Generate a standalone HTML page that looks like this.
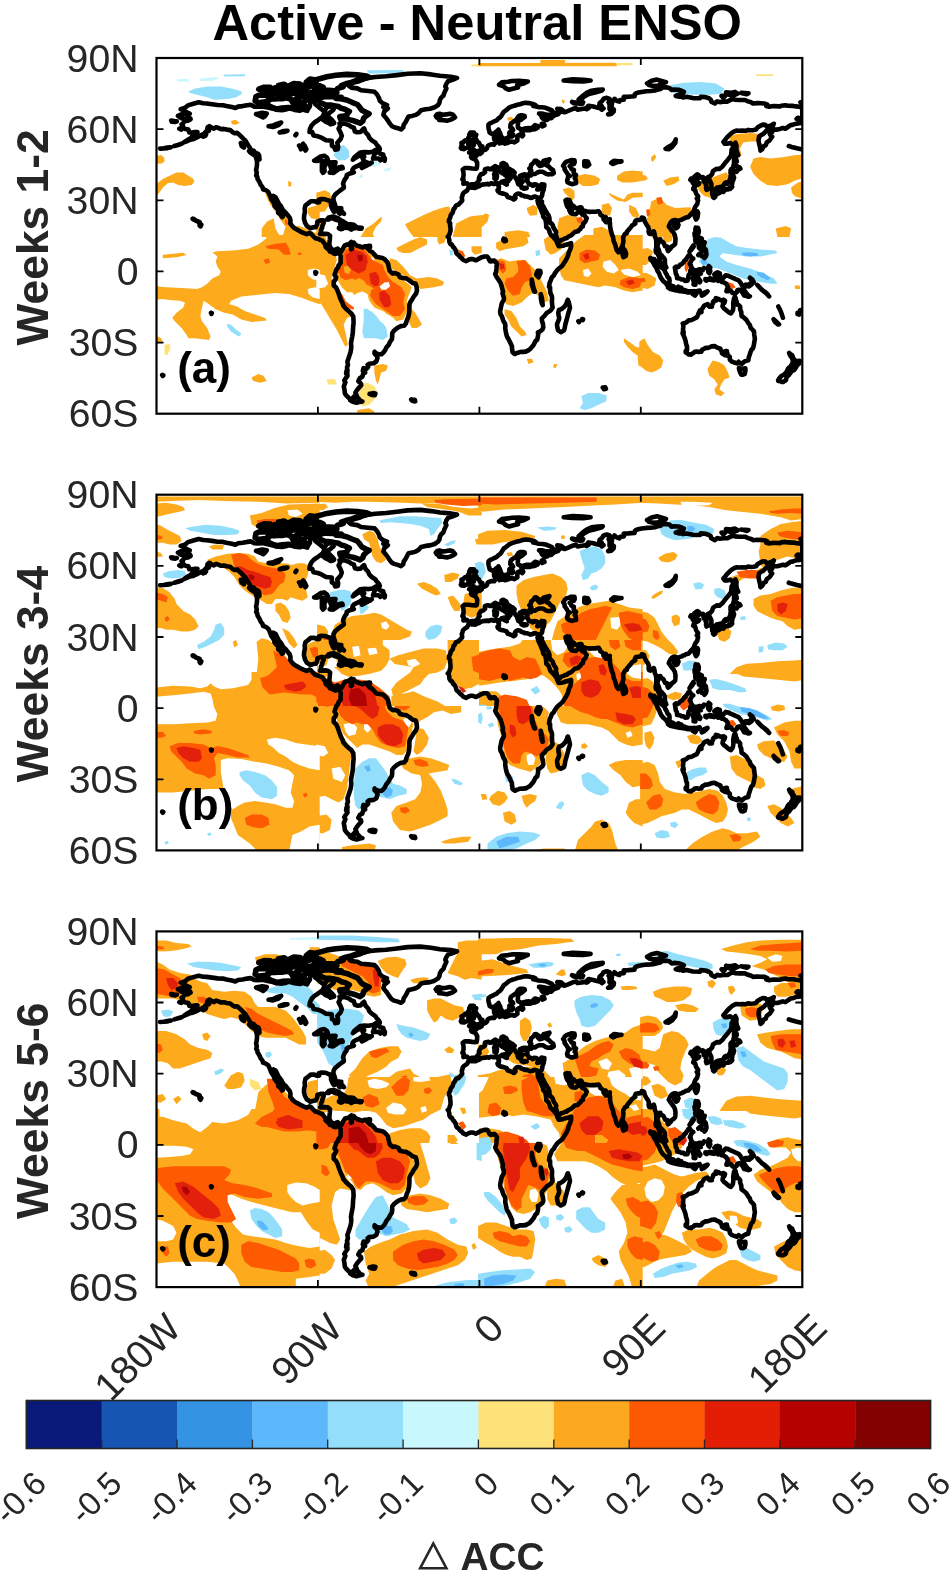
<!DOCTYPE html>
<html><head><meta charset="utf-8"><style>
html,body{margin:0;padding:0;background:#fff;width:950px;height:1573px;overflow:hidden}
svg{display:block;filter:blur(0.35px)}
text{font-family:"Liberation Sans",sans-serif}
</style></head><body>
<svg width="950" height="1573" viewBox="0 0 950 1573">
<defs><g id="coast"><path d="M174.4 88.0L178.0 87.0L181.6 85.8L178.9 86.6L174.4 88.0M160.1 90.6L163.7 90.3L167.3 89.6L170.9 89.2L167.3 90.1L160.1 90.6M788.8 88.0L791.5 88.9L796.9 90.3L801.4 91.3M178.0 57.9L181.3 56.4L185.2 55.5L188.8 56.7L189.7 55.7L186.1 54.1L182.5 51.7L180.7 51.2L185.2 49.8L187.9 47.4L194.2 45.5L198.7 44.3L203.1 45.3L206.7 45.5L212.1 46.2L217.5 47.0L222.9 47.2L226.5 48.1L231.8 49.1L235.4 50.0L238.1 48.6L242.6 48.1L247.1 47.2L250.7 46.7L254.3 48.6L257.9 48.8L262.3 48.4L267.7 49.6L273.1 50.7L275.8 51.7L282.1 52.2L285.7 51.5L289.2 50.3L294.6 51.9L300.0 52.6L302.7 51.5L307.2 52.9L308.1 50.5L309.9 48.4L310.2 43.2L313.5 42.7L315.3 46.2L318.8 49.1L321.5 51.2L324.2 53.4L326.9 49.3L330.5 48.1L332.3 49.3L333.6 51.5L331.4 53.4L328.7 55.5L326.9 56.2L323.9 56.0L322.8 58.6L319.7 60.9L317.1 62.8L314.4 64.5L311.7 67.3L309.9 71.1L309.5 74.0L312.2 74.0L313.5 77.5L317.9 78.3L321.5 79.7L326.0 82.3L331.8 82.8L331.9 87.7L334.1 88.9L335.2 91.8L337.7 91.3L338.2 88.7L337.3 84.7L340.7 80.9L341.8 77.8L340.4 74.2L338.6 70.7L340.2 67.8L339.5 65.4L344.9 65.7L349.3 67.3L351.1 68.8L353.8 69.7L354.9 73.5L357.1 74.2L360.5 74.0L362.8 71.4L364.1 70.4L365.5 74.2L368.2 77.1L369.4 79.9L371.8 82.3L375.4 84.7L376.3 86.3L379.3 89.6L379.3 91.3L376.3 91.5L372.7 93.7L368.5 94.4L364.6 94.1L360.1 94.6L357.4 96.8L354.2 99.6L352.9 101.7L356.5 99.1L360.1 97.2L363.7 97.5L364.2 98.9L362.4 99.8L363.5 102.2L364.9 103.6L368.2 104.8L370.0 106.0L369.6 105.3L371.8 104.6L366.4 107.7L361.9 110.0L361.0 108.1L364.1 106.0L361.9 105.3L359.2 107.2L356.5 108.4L353.8 109.8L352.6 111.5L352.2 113.1L353.8 114.3L351.7 115.0L349.3 115.7L346.7 117.1L346.5 119.3L344.9 121.2L343.8 123.5L343.1 125.7L343.8 128.5L343.8 129.9L342.0 131.1L339.5 133.0L337.3 134.7L335.0 136.8L333.6 139.2L333.4 141.8L334.1 143.9L335.0 146.5L335.7 149.9L335.4 153.2L333.9 153.7L332.8 152.0L331.9 150.1L331.0 147.7L331.0 145.1L329.6 142.8L327.8 142.3L325.1 141.3L321.5 141.1L318.8 141.8L319.2 144.2L317.1 144.4L314.4 143.2L310.8 143.2L308.1 145.4L305.4 147.5L304.7 150.6L304.9 154.1L304.1 157.7L304.0 161.0L305.0 164.6L306.8 167.9L309.0 169.3L310.2 170.3L313.5 169.3L315.8 169.1L317.1 166.5L317.4 163.6L320.6 162.4L323.3 162.4L323.7 164.8L322.4 167.9L322.1 170.0L321.0 171.9L321.0 175.0L320.1 176.0L322.4 176.0L325.1 175.7L327.8 176.0L330.1 177.8L329.8 181.4L329.4 185.0L329.4 187.3L330.5 189.7L333.2 192.6L335.9 191.4L337.7 190.7L339.8 192.8L341.3 193.5L342.3 191.8L343.8 189.0L344.9 187.3L346.7 186.6L348.1 186.6L349.9 185.2L351.3 184.0L350.6 186.9L351.1 188.5L351.0 191.4L352.0 190.7L351.7 187.6L353.5 185.9L353.8 184.5L354.7 186.1L356.9 187.6L359.2 188.3L362.8 189.5L364.6 188.3L367.3 188.3L368.5 188.5L366.9 189.7L370.0 193.0L372.1 194.0L374.3 196.3L376.3 198.7L379.8 199.4L382.5 199.9L384.3 200.9L386.7 203.5L387.9 205.1L388.8 209.2L389.7 212.9L391.5 214.6L392.8 215.6L395.1 215.1L398.7 216.7L399.9 219.3L403.2 220.1L405.9 220.3L409.4 222.4L412.7 225.0L415.7 225.8L416.6 228.8L417.0 232.4L416.1 235.5L413.9 238.3L412.5 240.7L410.3 244.2L409.4 246.6L409.4 251.4L409.1 255.4L408.2 259.2L406.6 263.0L405.9 265.6L404.1 267.7L401.4 268.0L399.2 268.9L396.9 270.3L394.2 272.5L392.2 275.1L392.2 278.6L391.9 281.2L390.1 283.8L388.6 286.9L386.5 289.3L385.0 292.4L383.4 294.5L381.5 296.2L378.4 296.2L375.7 295.0L374.6 293.8L374.5 295.5L376.8 297.8L377.5 300.0L376.3 303.5L373.6 305.2L369.1 305.7L367.6 306.9L368.2 309.0L366.4 310.9L363.5 310.2L362.8 313.0L365.1 314.7L363.2 315.6L362.3 318.9L359.9 320.1L358.3 323.2L361.0 325.6L361.2 327.2L358.1 330.6L356.7 332.5L355.4 334.6L356.7 337.4L354.7 337.9L352.4 340.3L351.7 341.5L349.3 340.3L346.7 337.9L344.9 335.5L344.5 332.0L343.8 328.4L345.4 324.4L344.3 322.5L345.8 320.1L347.5 317.8L347.0 316.1L347.5 312.5L347.0 309.5L347.9 307.1L347.4 303.5L348.1 301.6L349.2 298.3L350.6 294.0L351.0 291.7L351.3 288.8L351.0 285.3L351.5 282.2L352.2 278.6L352.8 275.1L353.1 269.1L353.6 264.4L353.3 258.5L351.3 255.4L348.8 253.3L346.1 250.9L343.4 247.8L342.5 245.0L340.9 241.9L339.3 237.6L337.7 232.9L336.1 229.5L333.7 227.4L333.7 223.6L335.4 221.7L336.2 219.3L334.5 217.0L335.7 213.4L336.6 211.0L338.0 209.6L338.6 207.5L340.6 204.9L340.6 202.0L340.7 198.0L339.7 196.1L338.6 194.0L337.1 192.1L336.2 193.3L335.2 194.4L335.7 195.9L333.7 195.4L332.3 194.2L329.8 193.5L329.3 192.1L326.9 190.2L325.5 188.8L325.7 187.1L324.0 185.0L322.3 182.6L320.6 182.1L317.9 180.7L315.3 180.2L313.3 178.3L311.0 175.7L309.5 175.0L306.6 176.2L304.0 175.2L300.9 173.8L297.3 171.7L294.6 170.3L292.3 168.1L290.3 165.5L290.5 162.4L289.8 159.8L287.8 157.2L285.7 154.6L283.1 152.2L281.0 148.2L278.7 145.4L277.0 142.0L275.6 139.2L273.5 138.0L273.5 140.4L274.4 142.8L276.2 145.1L277.4 148.0L279.2 150.8L280.3 154.1L281.7 156.0L283.0 158.4L282.1 159.1L280.5 156.5L278.1 154.6L278.3 151.5L276.2 149.9L274.4 147.7L274.5 146.3L272.7 143.2L271.1 140.9L270.2 138.0L269.2 135.9L268.4 134.2L266.8 132.8L264.9 131.8L263.1 131.4L262.5 129.2L260.7 126.9L259.8 124.7L258.9 123.1L257.5 120.9L257.3 118.8L256.2 117.6L256.8 115.0L256.1 111.9L256.6 109.8L257.0 106.7L257.0 103.6L256.6 101.7L255.7 98.6L258.6 99.4L259.5 101.3L259.1 97.5L258.2 96.0L255.5 94.9L253.7 92.7L251.2 92.2L250.0 90.1L248.3 87.5L246.6 84.7L245.3 82.5L243.5 80.9L241.7 79.0L239.4 76.8L237.2 74.9L234.5 75.2L232.7 74.2L230.2 72.1L226.8 71.6L223.8 70.9L221.1 71.1L218.4 70.0L216.1 69.2L213.9 70.7L211.2 69.2L209.4 68.1L207.6 69.2L207.1 71.6L208.9 72.8L205.8 73.7L203.9 75.9L201.3 77.1L198.7 78.5L195.4 80.2L192.7 81.3L190.0 81.8L187.4 83.0L183.8 84.4L187.7 81.8L190.6 80.2L193.3 77.5L196.0 74.9L197.4 74.0L194.9 74.0L192.4 74.5L189.3 74.5L188.4 71.6L185.6 71.1L183.0 69.7L182.9 67.6L181.6 66.4L183.8 64.5L184.1 63.3L187.9 62.8L190.6 61.2L190.2 60.2L187.0 60.2L183.8 60.5L181.3 60.2L179.3 58.8L178.0 57.9M584.3 103.2L587.9 103.6L589.2 106.7L587.0 108.4L584.3 107.9L584.3 103.2M279.7 74.5L283.9 73.0L287.5 72.8L283.9 74.0L279.7 74.5M682.8 265.6L684.1 265.1L685.0 265.1L686.6 264.2L688.7 262.3L690.5 262.3L692.5 261.6L694.7 260.4L696.8 259.4L697.9 257.3L698.8 254.7L700.0 252.3L701.5 254.0L701.1 251.8L702.6 250.2L704.0 247.8L705.6 246.9L707.6 246.1L709.4 248.8L711.9 248.8L711.5 247.6L713.1 245.0L713.0 244.0L714.0 242.8L716.2 242.4L717.3 240.7L715.8 240.2L718.5 240.9L720.1 241.9L722.1 242.4L723.4 241.6L725.0 242.6L724.3 245.0L723.2 245.0L722.5 248.5L723.9 250.4L725.3 251.4L727.5 253.3L729.3 254.7L730.9 255.4L732.2 253.7L732.9 252.3L733.4 249.0L733.2 245.7L733.4 244.0L734.1 240.2L735.0 238.8L735.6 240.0L736.1 242.6L736.8 243.8L737.0 246.6L738.8 247.1L740.2 248.8L740.1 251.1L741.3 254.2L741.5 258.0L744.0 259.7L746.3 261.8L747.6 263.9L748.8 265.8L749.9 267.0L750.5 269.6L752.3 271.5L754.0 273.4L754.2 276.5L754.9 281.0L754.4 283.4L753.9 286.9L753.0 290.3L751.5 291.7L750.6 293.8L749.7 296.7L748.7 299.5L748.3 302.3L745.4 303.1L743.8 304.0L741.8 305.9L740.4 305.0L739.3 304.5L738.6 303.8L737.0 305.4L734.5 304.5L733.4 304.2L731.6 303.5L729.8 301.6L729.8 299.0L728.9 298.1L727.1 297.8L727.7 296.7L727.3 295.0L726.4 296.7L724.8 297.1L726.1 294.3L726.8 293.1L725.5 293.1L724.1 294.3L723.2 296.2L721.9 295.2L721.9 293.8L720.9 292.1L720.0 291.2L720.3 290.7L716.7 289.3L714.9 288.1L711.7 288.4L709.4 289.3L707.4 290.0L705.6 289.8L703.8 291.0L702.2 291.7L701.3 293.8L699.7 293.8L698.6 294.0L697.0 293.6L694.7 293.8L694.5 294.0L693.4 295.2L692.0 295.7L691.1 296.7L689.8 296.4L688.6 296.4L686.8 295.0L685.7 294.5L685.7 293.1L687.0 292.4L687.0 291.4L687.0 288.4L686.1 286.0L685.7 283.4L685.0 281.0L684.3 279.1L683.9 278.2L683.0 276.3L682.6 275.3L683.5 276.3L682.8 274.1L683.7 274.8L683.0 271.3L683.2 269.4L683.4 266.8L682.8 265.6M338.9 150.1L341.3 150.3L340.4 151.3L338.9 150.1M339.5 153.7L340.0 155.8L339.1 155.3L339.5 153.7M342.2 153.7L343.1 155.3L344.0 155.8L342.2 153.7M665.6 90.8L668.7 88.7L671.9 87.0L674.6 84.2L675.8 81.3L675.3 84.9L672.2 88.9L668.7 91.3L665.6 90.8M686.1 232.6L687.8 233.3L689.3 233.3L692.9 233.3L691.6 234.3L687.8 234.5L686.1 234.1L686.1 232.6M611.3 104.8L613.9 102.7L618.4 103.2L621.5 103.4L616.6 104.3L613.0 106.0L611.3 104.8M674.9 209.6L675.3 212.2L675.8 215.6L676.9 217.5L677.1 220.3L679.8 220.5L681.2 221.5L683.5 221.5L685.0 222.9L687.5 222.7L688.0 220.8L688.6 217.0L690.2 215.3L690.4 212.2L691.1 211.3L692.7 211.0L691.1 208.9L690.9 207.3L689.8 205.8L691.1 203.2L691.8 201.6L693.2 200.6L691.6 199.7L690.5 198.2L689.6 196.8L688.6 197.3L687.5 199.2L686.4 200.6L685.7 202.0L684.3 202.7L683.7 203.9L682.1 205.8L680.0 206.8L678.5 208.9L677.1 209.4L676.0 208.7L674.9 209.6M469.2 94.6L471.3 94.1L473.3 93.4L475.8 93.2L478.0 93.0L480.3 93.0L481.9 92.0L480.7 91.3L482.3 89.9L482.4 88.5L480.3 87.7L479.8 86.6L478.7 84.4L477.2 83.9L476.5 81.8L475.8 80.9L474.0 80.6L474.7 79.9L475.8 78.0L476.2 76.8L473.7 76.6L472.2 76.8L473.8 74.5L470.4 74.5L469.2 76.8L469.4 79.4L468.3 79.9L469.7 81.3L470.6 83.0L470.4 83.7L472.9 83.2L473.7 84.9L474.0 85.8L473.8 87.0L471.3 86.8L471.0 88.2L472.0 89.4L470.3 90.3L470.4 91.1L471.9 91.1L473.8 91.5L472.4 92.0L470.8 93.2L469.2 94.6M705.4 221.0L707.6 221.2L706.5 222.7L705.4 222.0L705.4 221.0M563.2 107.7L564.8 105.1L566.6 103.6L567.5 103.4L569.1 102.9L571.2 102.0L574.5 102.2L574.7 104.3L573.9 106.0L571.4 106.2L571.4 107.9L569.6 108.1L570.7 109.1L571.6 111.2L573.9 111.9L573.6 114.3L574.5 115.7L574.1 116.9L576.1 117.1L574.7 120.2L575.6 120.9L576.1 125.2L574.8 125.4L572.0 126.2L569.8 125.4L567.5 124.3L567.1 122.4L567.7 120.7L568.2 118.3L569.8 117.9L568.4 117.1L567.3 115.5L566.6 114.3L564.6 111.5L564.6 110.0L564.1 108.8L563.2 107.7M503.6 180.7L505.4 181.2L505.9 182.8L504.5 183.3L503.3 182.1L503.6 180.7M162.2 317.0L163.3 317.3L162.8 318.0L162.2 317.0M347.4 312.5L346.8 314.4L347.4 316.1L346.1 315.6L346.5 312.8L347.4 312.5M330.5 66.2L332.7 65.7L332.3 64.3L329.6 65.2L330.5 66.2M494.8 112.4L496.3 111.5L496.6 113.6L495.9 115.2L494.8 113.8L494.8 112.4M521.6 129.7L522.8 129.5L525.7 129.7L526.6 130.2L523.7 130.7L521.6 129.7M327.1 161.5L328.7 159.6L331.4 158.9L334.1 158.6L336.8 159.8L338.6 160.5L340.7 162.2L343.1 163.4L344.9 164.6L346.3 165.5L344.0 166.2L340.2 166.2L340.9 164.6L338.6 162.4L335.0 161.5L332.7 160.5L330.7 159.8L328.7 161.5L327.1 161.5M537.3 131.4L538.6 131.4L540.4 130.4L541.5 128.8L540.2 129.9L538.2 130.2L537.3 131.4M329.8 114.5L333.2 115.0L337.7 111.9L335.0 112.4L330.5 113.8L329.8 114.5M469.4 128.1L468.1 126.2L467.0 125.2L465.9 125.2L463.4 125.7L463.6 123.5L463.6 121.9L462.4 121.4L463.3 119.3L463.6 116.9L463.4 114.1L462.7 111.5L464.7 110.0L468.6 110.0L472.2 110.5L475.8 110.7L476.7 110.5L477.1 107.9L477.2 104.8L475.8 102.2L474.9 101.3L471.7 100.1L471.0 98.9L471.5 97.9L474.0 97.7L476.5 97.9L476.0 95.6L477.2 96.3L479.8 96.0L481.6 94.9L482.3 92.7L483.9 92.2L485.7 91.5L486.9 90.3L487.8 88.0L489.3 87.0L492.0 86.3L494.1 86.6L495.0 85.4L495.2 83.0L494.1 81.1L494.1 78.7L496.6 77.8L498.4 76.6L498.2 77.8L497.9 79.9L499.0 79.9L497.7 81.6L497.0 83.0L497.2 83.5L499.0 84.4L499.5 85.4L501.5 84.7L503.8 84.9L505.1 85.6L508.1 84.7L510.8 83.5L512.8 83.7L514.4 84.4L517.4 82.5L517.3 79.9L518.1 77.3L519.9 76.6L522.3 78.3L523.2 77.3L522.6 75.2L521.6 73.7L523.0 72.6L526.0 72.1L529.6 72.3L532.3 71.4L533.6 71.4L531.4 70.4L529.3 70.0L526.0 70.2L521.6 71.4L520.3 70.9L518.0 69.7L517.8 67.8L518.0 65.2L517.3 64.0L519.4 62.6L521.6 61.4L523.4 59.8L524.8 58.8L524.6 57.9L522.6 57.4L520.1 57.4L518.5 58.3L517.4 59.8L516.7 61.4L514.9 62.6L512.6 64.3L511.0 65.4L510.4 67.3L510.3 69.5L512.2 70.4L513.1 71.9L512.0 72.8L509.5 74.2L509.2 76.6L508.8 79.2L507.7 80.4L505.8 80.2L504.9 82.0L502.4 82.0L502.5 80.6L502.0 79.4L500.7 77.3L500.2 75.2L499.3 73.5L498.4 71.6L497.9 73.0L496.4 73.5L494.6 75.2L492.0 75.9L489.6 74.5L489.3 72.8L488.7 70.9L488.4 68.8L488.5 66.6L490.0 65.4L492.0 64.5L494.3 63.3L496.6 62.4L498.1 60.7L499.9 59.5L501.3 57.9L502.4 56.0L503.8 53.8L505.9 52.4L507.9 50.7L509.2 49.6L512.0 48.4L514.4 47.7L517.4 46.7L519.9 46.2L522.8 45.3L525.5 44.8L528.9 45.1L530.7 45.5L533.8 46.2L535.4 47.0L533.2 47.9L535.9 48.4L538.6 49.1L542.2 49.3L545.6 49.8L548.5 51.0L551.9 52.4L553.1 54.1L551.7 56.2L548.5 56.9L544.9 56.2L541.8 55.5L539.0 55.5L541.1 57.1L541.8 59.3L543.1 60.9L545.4 61.2L546.7 61.9L547.9 61.2L546.1 59.5L549.0 60.2L551.5 60.2L552.2 59.0L554.7 57.4L558.0 56.4L558.7 55.5L557.4 53.8L558.7 51.5L557.3 50.7L561.0 51.0L562.8 52.4L561.0 53.4L564.6 54.3L568.2 52.9L572.7 51.0L575.9 50.0L577.5 51.7L581.7 51.0L585.2 50.5L586.7 51.2L588.6 50.0L587.6 48.6L588.5 47.7L593.3 48.6L596.0 49.3L600.3 50.3L601.9 51.7L603.5 50.5L602.3 49.6L601.7 47.9L599.2 47.9L599.6 45.1L602.1 43.2L603.5 40.8L606.8 39.8L609.6 40.8L610.0 42.2L608.6 44.3L609.5 45.5L609.6 48.6L609.5 51.0L611.4 52.6L610.7 54.5L608.2 56.4L611.3 56.0L613.6 53.6L613.9 51.5L611.8 50.0L611.6 47.9L612.0 45.3L610.7 44.1L613.6 42.4L614.5 40.8L616.6 42.7L619.3 43.6L620.2 42.0L623.8 41.7L624.7 39.6L623.8 38.9L628.3 38.7L634.6 38.2L634.8 36.5L636.0 35.3L638.2 34.6L641.7 33.9L646.2 33.2L650.7 33.0L654.8 32.5L657.0 31.8L660.6 31.1L661.7 29.6L666.5 29.2L669.6 30.1L671.7 32.0L674.0 31.5L678.5 31.8L682.1 33.0L683.9 33.9L683.0 35.3L680.3 36.3L677.6 37.0L675.8 37.9L679.4 38.7L682.1 38.2L683.0 39.4L686.6 38.7L692.9 40.1L700.0 40.3L700.8 38.7L705.4 39.1L709.0 40.3L710.8 41.7L711.3 43.6L714.9 45.5L717.1 43.4L719.8 44.1L723.4 43.6L727.5 43.6L730.2 42.0L733.2 41.0L735.0 41.7L739.5 42.0L744.9 42.0L748.1 43.4L751.2 44.3L753.0 45.5L757.5 45.1L761.0 45.3L764.6 45.5L767.3 46.7L766.4 48.1L769.1 48.8L773.6 48.1L779.9 48.4L781.3 47.7L785.3 47.2L787.9 47.7L793.3 47.9L796.0 48.4L799.6 48.8L802.3 50.0L802.3 59.0L800.0 60.5L797.8 59.8L796.6 60.9L799.3 61.9L800.9 63.8L801.2 65.0L797.8 65.4L795.1 65.9L792.4 66.9L790.6 67.1L787.9 69.0L785.3 70.7L782.9 70.0L779.9 70.9L777.2 71.6L774.7 71.4L772.7 72.3L772.2 74.0L769.7 75.6L770.4 77.1L772.2 78.7L771.1 80.2L769.7 82.3L766.8 84.4L765.7 87.3L763.7 88.2L762.3 91.1L760.5 92.5L760.1 89.4L759.2 86.1L758.5 82.3L759.1 78.7L760.7 77.3L763.4 75.9L766.1 73.0L769.8 70.4L772.7 68.3L773.8 65.7L771.6 67.1L767.0 68.8L765.3 66.9L762.8 66.6L760.7 67.6L757.5 69.5L756.0 71.6L753.5 72.1L750.6 72.3L748.1 71.9L745.8 72.8L742.2 72.6L739.5 72.8L736.3 72.6L734.5 73.3L732.0 74.7L729.3 77.1L727.0 79.4L725.2 81.8L723.4 83.9L724.8 85.8L727.3 85.8L730.2 84.9L732.9 87.0L733.1 89.4L731.6 91.8L731.4 94.6L731.1 97.5L729.3 99.8L727.3 102.4L724.8 105.3L722.5 108.4L719.4 111.0L716.7 110.7L714.0 112.4L713.0 113.1L712.1 116.2L711.2 117.1L709.9 118.6L708.1 119.0L708.1 120.5L709.6 121.9L711.3 125.4L711.5 128.3L711.0 130.2L709.0 130.7L706.5 131.8L706.0 129.9L706.5 127.1L705.6 126.4L706.9 124.0L705.6 124.0L704.0 124.0L703.5 122.1L704.2 120.0L702.9 119.0L700.4 119.3L697.5 120.9L696.8 121.2L697.7 119.5L697.4 118.6L698.8 117.4L697.5 116.4L696.1 117.1L694.3 118.8L692.9 120.5L691.1 120.5L690.4 121.9L692.7 123.5L692.7 125.0L694.1 125.2L696.1 123.8L697.5 124.5L699.2 125.2L698.6 126.2L695.7 127.8L693.9 129.0L693.2 131.1L695.2 132.1L695.9 134.9L696.6 136.4L698.1 138.2L697.9 140.1L696.8 140.6L698.1 142.3L697.5 144.7L697.2 146.3L695.7 148.0L694.7 150.1L693.9 152.5L692.9 154.1L691.8 155.1L689.8 157.5L688.2 159.1L686.1 159.4L684.3 160.5L683.0 160.8L681.9 161.7L680.0 162.2L677.8 163.1L677.4 165.0L676.5 163.9L676.0 162.0L674.0 162.0L672.1 162.9L670.6 164.6L669.6 166.5L668.8 168.4L670.4 170.7L672.1 173.1L673.7 175.0L674.8 177.1L675.5 180.7L675.3 184.3L675.1 185.9L673.9 187.3L671.9 188.5L670.4 190.7L668.1 193.0L667.4 191.4L667.6 188.8L666.5 188.5L665.1 188.3L664.2 186.1L663.3 184.5L661.8 183.5L660.4 183.3L660.4 181.4L658.8 181.6L658.6 184.3L657.4 187.3L657.7 189.7L658.6 191.6L659.3 193.7L659.9 196.3L661.5 197.3L662.7 198.7L664.3 200.6L664.9 202.0L664.9 204.4L665.1 206.8L666.3 209.6L665.1 210.3L663.5 208.9L661.3 207.0L660.6 204.9L659.9 203.5L659.5 201.1L659.3 198.7L658.3 197.3L657.7 195.4L655.9 194.4L655.7 192.1L656.3 189.2L656.3 186.4L656.3 183.8L655.9 180.7L654.8 178.3L654.5 175.5L653.8 173.3L652.3 174.1L650.5 176.0L649.1 175.5L648.6 173.6L648.9 171.2L648.2 169.1L647.1 167.4L646.2 166.2L645.2 164.3L644.6 163.1L644.1 160.5L643.0 159.8L641.7 159.6L641.2 161.5L639.2 162.0L637.6 162.0L635.8 162.4L634.8 164.3L635.3 165.5L633.7 166.5L631.9 167.7L630.3 170.0L628.7 171.7L627.0 173.8L626.9 175.2L625.2 175.7L624.3 177.1L623.1 179.3L623.4 182.6L623.3 184.5L622.6 187.1L622.7 189.2L621.7 189.0L620.9 190.9L619.9 192.3L618.4 194.2L616.8 192.3L615.9 189.5L615.2 186.6L614.5 185.0L613.6 182.8L613.0 179.0L612.0 176.7L611.3 174.5L610.5 171.0L610.0 167.9L610.0 165.3L609.6 162.7L609.8 161.0L608.7 162.9L607.1 164.1L605.9 164.1L603.5 161.0L604.3 160.1L605.7 159.1L603.5 159.4L602.1 157.7L600.5 156.7L599.8 154.8L598.7 153.2L595.1 153.7L591.5 153.7L589.7 153.9L586.3 153.2L584.3 152.7L582.4 152.5L581.5 149.6L580.8 149.2L579.1 149.6L577.5 150.6L575.4 149.9L573.6 148.0L571.8 147.3L570.7 145.1L569.3 142.0L568.4 142.3L567.1 141.6L565.5 142.3L566.2 145.6L566.9 147.7L567.8 149.2L569.5 150.1L569.3 152.0L570.2 154.1L570.9 155.1L571.6 153.2L572.0 152.2L571.4 151.5L572.0 155.8L573.8 156.0L575.7 156.3L577.5 154.6L578.8 153.2L579.9 151.8L580.6 150.8L580.4 152.5L580.6 154.4L582.4 156.7L584.7 157.5L586.0 159.6L586.7 160.1L585.8 162.7L584.3 164.8L583.1 165.5L582.9 168.4L581.3 169.1L580.4 171.0L578.6 172.4L578.1 173.3L574.7 174.1L573.0 175.7L571.2 177.4L568.4 178.6L566.8 180.2L565.3 180.2L563.7 181.2L561.2 181.9L560.1 183.3L559.2 183.3L557.4 183.5L556.9 182.1L557.1 180.7L556.4 178.3L555.8 176.2L556.2 174.5L555.8 173.1L554.4 171.2L553.3 169.1L552.8 167.2L551.5 165.5L550.8 165.3L549.5 162.9L549.4 159.8L548.5 157.2L547.4 155.8L546.7 154.4L546.1 153.7L545.1 151.8L544.3 150.3L543.3 148.4L542.4 146.8L541.5 146.8L542.0 143.5L541.5 144.2L541.1 146.3L540.8 147.5L540.2 148.0L538.8 146.1L537.9 142.5L537.5 142.5L538.1 145.4L539.1 147.7L540.4 150.3L541.3 152.7L542.2 154.8L543.1 156.7L543.1 158.6L545.2 160.8L545.6 162.4L546.1 165.3L546.3 169.1L548.3 170.7L549.2 172.6L549.9 175.0L550.8 176.7L553.3 179.0L555.3 181.6L556.7 183.3L557.1 185.0L558.7 188.3L561.2 188.0L563.0 187.8L564.6 187.1L566.2 186.6L567.8 186.4L569.6 185.7L571.1 185.2L571.1 188.3L570.2 191.6L568.7 194.7L568.2 197.3L566.6 200.9L565.5 202.7L563.7 205.6L561.9 208.2L561.2 208.7L558.5 210.8L556.7 212.7L554.7 215.6L553.8 217.5L552.8 218.4L551.7 219.6L550.8 222.2L549.7 224.6L549.0 228.8L550.1 229.5L550.1 232.4L550.4 235.0L551.7 237.8L552.1 240.0L551.9 243.3L552.2 247.1L552.6 249.5L550.8 252.3L546.5 255.2L544.5 257.8L541.8 260.4L542.0 263.0L542.9 265.8L543.3 269.6L542.4 271.5L539.7 273.7L537.9 274.4L538.2 276.3L537.9 278.6L537.2 281.7L535.5 283.1L533.4 287.2L531.2 289.8L530.0 291.2L528.7 292.1L526.8 293.1L525.7 293.8L524.6 293.6L523.7 294.0L521.7 293.8L519.9 294.0L518.0 294.8L516.5 295.0L515.5 295.9L514.6 295.9L513.8 295.2L513.3 295.0L512.4 294.0L512.4 292.4L512.0 290.7L512.0 288.6L511.0 286.2L510.1 284.3L508.6 281.2L507.4 279.3L506.7 277.7L505.8 273.7L505.2 270.1L505.4 267.7L505.1 265.8L503.4 263.0L502.4 260.1L502.0 258.5L500.6 256.3L500.2 254.2L500.2 253.0L501.3 247.6L501.8 245.4L503.8 241.9L504.0 240.2L503.4 238.1L502.5 235.2L503.1 233.8L501.5 227.9L501.3 227.2L500.7 225.3L499.3 222.9L497.5 220.3L496.3 218.4L495.2 216.0L496.1 213.9L496.4 211.0L496.6 208.0L497.0 206.1L496.3 204.6L495.4 204.2L495.0 203.0L494.3 202.5L492.9 203.0L492.1 202.7L491.4 203.5L490.0 203.2L489.1 201.8L488.2 199.7L487.1 198.5L485.9 198.5L484.2 198.5L482.8 199.0L481.4 199.4L478.5 200.9L477.4 201.6L475.8 202.3L474.2 201.6L473.5 201.3L472.2 201.1L471.1 201.1L469.0 201.6L467.7 202.3L465.9 203.2L465.6 203.0L463.3 202.0L461.6 200.1L460.0 199.0L458.9 197.3L457.2 196.1L456.3 194.9L455.7 192.3L454.8 190.9L454.1 189.7L453.2 189.2L452.3 187.3L451.4 186.1L450.5 186.1L449.4 184.0L449.3 182.1L448.7 179.3L447.8 178.6L448.5 178.1L449.4 176.4L449.8 175.2L450.5 173.1L450.5 170.5L450.2 168.1L450.0 166.9L450.2 165.8L449.8 164.6L448.9 163.6L449.1 161.5L449.6 160.8L450.2 159.6L450.7 157.2L451.8 155.6L452.3 155.3L452.9 153.9L453.6 151.1L454.6 150.3L455.9 147.7L456.8 147.0L458.4 146.8L459.8 145.1L460.7 144.4L462.2 142.5L461.8 139.4L462.5 137.5L462.7 136.1L463.8 134.7L465.6 133.5L467.0 132.6L468.3 130.2L468.8 128.5L470.1 128.5L471.1 129.7L472.9 129.5L474.7 129.9L475.5 129.9L477.2 128.8L479.2 128.3L480.3 127.3L482.1 126.6L485.1 126.2L488.0 125.9L488.9 126.4L490.7 125.4L492.5 125.4L493.2 125.9L494.5 125.9L496.4 125.0L497.7 125.2L497.7 126.4L499.1 125.4L499.3 125.9L498.4 127.1L498.4 128.3L499.0 128.8L498.8 130.9L497.5 132.1L497.9 133.3L499.0 133.3L499.3 134.5L500.0 134.9L502.2 135.6L502.9 135.4L504.3 135.9L506.7 136.8L507.6 139.0L509.2 139.4L511.7 140.4L513.7 141.6L514.6 141.1L515.5 139.9L514.9 138.0L515.5 137.1L516.9 135.9L518.0 135.6L520.5 136.1L521.0 137.1L521.7 137.1L522.3 137.5L524.1 137.8L524.6 138.5L526.9 138.5L528.7 139.2L530.5 139.9L532.7 139.4L533.4 138.7L535.0 138.5L536.3 139.0L537.2 139.2L538.2 139.7L540.0 139.9L540.9 139.4L541.5 138.7L542.2 137.1L542.4 134.9L543.1 133.0L543.8 131.4L543.8 129.5L544.3 128.5L543.6 127.3L544.3 126.6L543.3 126.6L541.6 126.2L540.4 127.6L537.7 127.8L536.3 126.6L534.3 126.4L533.9 127.3L532.7 127.8L530.9 126.4L528.9 126.4L528.0 124.0L526.6 122.8L527.5 120.9L526.4 119.8L527.1 118.3L528.4 117.6L531.1 117.4L531.8 115.7L529.8 114.8L531.2 112.6M526.6 116.7L525.0 116.4L524.1 116.4L521.9 116.9L523.2 118.3L521.4 118.8L519.9 117.9L520.3 119.5L521.4 120.5L520.7 121.4L522.5 122.8L522.5 124.0L520.8 123.5L521.4 124.7L520.3 125.0L521.0 127.1L519.8 127.1L518.3 126.2L517.6 124.3L517.3 122.6L516.5 121.4L515.6 120.2L515.3 119.3L514.2 117.9L514.0 115.5L514.6 114.5L513.5 113.6L512.6 112.6L510.8 111.9L509.7 111.0L508.1 110.3L506.7 108.6L507.0 108.4L506.1 106.5L505.1 106.2L504.0 106.5L504.0 105.3L502.9 105.1L501.5 105.8L501.5 107.7L502.0 108.8L503.6 110.0L504.5 111.9L506.5 114.1L508.1 114.1L507.9 115.0L510.8 116.4L512.4 117.6L512.6 118.3L511.2 117.9L509.7 117.6L509.2 119.5L510.3 120.7L509.2 121.4L508.3 123.3L507.6 123.3L507.9 121.4L507.6 119.8L507.0 118.6L506.3 118.1L505.8 117.1L504.5 116.7L503.8 115.7L502.5 115.5L501.1 114.5L499.5 112.9L498.2 111.7L497.7 109.3L496.8 109.1L495.4 108.1L494.5 108.6L493.6 109.6L492.7 109.8L491.1 111.2L489.8 111.2L488.4 110.5L487.7 110.5L485.0 111.2L484.8 112.6L485.1 114.1L483.2 115.7L480.8 116.2L480.7 116.9L479.6 118.3L478.9 120.2L479.6 121.6L478.5 122.6L478.1 124.3L476.9 124.7L475.6 126.4L473.3 126.4L471.5 126.4L470.4 127.3L469.7 128.3L469.4 128.1M531.2 112.6L529.4 110.5L530.7 109.6L531.1 106.9L532.5 105.8L533.9 104.3L534.7 102.9L536.3 102.7L537.5 103.6L539.0 104.6L539.5 106.5L537.7 106.0L539.7 107.9L542.0 107.4L543.1 106.5L544.9 105.5L544.5 106.5L542.9 106.0L542.5 105.3L542.2 105.1L543.6 102.9L546.5 102.0L547.9 101.7L549.5 101.3L547.9 103.9L547.0 105.5L545.6 106.2L546.7 107.4L548.8 108.4L550.6 110.5L553.1 112.2L553.8 115.0L551.9 116.2L550.3 116.0L548.1 116.4L545.8 115.7L544.0 114.5L542.5 113.8L539.5 113.8L537.3 114.5L535.2 116.0L531.8 115.7M369.6 336.0L372.7 335.1L375.4 335.5L374.8 337.2L371.8 337.0L369.6 336.0M797.5 254.9L799.6 254.9L799.1 256.6L797.5 256.1L797.5 254.9M800.1 252.5L802.3 251.6L801.4 253.3L800.1 252.5M694.3 233.3L696.5 233.3L699.7 232.6L699.7 233.8L695.7 234.3L694.3 233.3M563.7 22.5L572.7 21.3L583.4 21.8L590.6 22.5L583.4 23.5L572.7 23.2L563.7 22.5M496.8 81.8L498.8 81.8L498.2 83.0L496.8 81.8M315.3 214.1L316.2 214.6L315.6 215.8L315.3 214.1M511.9 77.5L513.1 76.4L513.3 77.5L512.0 78.5L511.9 77.5M256.1 56.2L262.3 54.8L266.8 55.5L265.0 58.1L263.2 59.5L260.5 58.1L256.1 56.2M268.6 68.3L273.1 67.6L276.7 65.9L281.2 64.5L278.5 67.1L273.1 69.0L268.6 68.3M348.4 27.3L351.1 29.6L357.4 30.4L361.0 32.3L368.2 33.0L374.5 33.7L377.1 36.5L378.9 39.8L379.8 42.7L382.5 45.1L387.0 47.0L383.4 49.1L387.9 50.5L384.3 53.4L383.4 56.9L386.1 60.0L387.9 62.6L389.7 65.4L391.9 68.1L394.2 69.2L397.8 70.2L401.0 71.4L403.2 69.5L403.7 66.9L405.5 64.3L406.9 61.7L408.5 58.6L412.1 57.9L415.7 56.9L418.4 55.3L421.1 52.2L425.6 51.2L430.1 50.7L434.6 49.3L438.1 47.0L439.4 44.8L439.9 42.0L441.2 39.6L443.5 37.5L444.2 35.1L445.3 32.7L446.4 30.4L445.3 28.5L446.2 26.1L448.0 23.2L452.5 21.8L457.0 19.9L450.7 18.7L439.9 17.8L431.0 16.4L420.2 15.2L407.6 15.7L396.9 17.1L386.1 18.3L375.4 19.0L368.2 19.9L363.7 21.3L359.2 23.2L352.9 24.9L348.4 27.3M674.2 167.9L676.0 170.3L677.6 169.3L678.5 166.9L677.8 165.8L676.0 166.0L674.4 166.7L674.2 167.9M708.8 208.2L710.3 209.6L709.0 212.0L710.3 212.9L709.4 215.3L708.3 214.1L707.9 210.1L708.8 208.2M199.7 165.5L201.3 166.7L200.5 168.4L199.6 167.4L199.7 165.5M198.3 163.6L199.6 164.1L198.8 164.6L198.3 163.6M195.4 162.2L196.5 162.9L195.8 162.9L195.4 162.2M192.7 160.8L193.6 160.8L193.3 161.5L192.7 160.8M345.9 169.8L348.1 166.2L350.8 166.2L353.8 166.7L356.7 169.3L355.8 170.3L353.3 170.3L351.3 171.7L349.3 170.3L345.9 169.8M730.5 115.0L732.7 114.3L732.3 112.6L733.8 112.4L736.5 113.8L738.3 111.5L740.4 110.7L739.5 109.3L738.3 108.8L735.9 107.7L734.0 105.5L733.4 108.1L733.1 110.5L731.4 111.0L730.5 112.4L730.7 113.8L730.5 115.0M714.2 132.1L715.3 131.1L717.1 129.5L718.9 129.2L720.9 128.8L722.8 129.2L723.5 127.3L724.8 125.0L725.7 124.5L725.9 126.2L727.3 125.7L728.6 123.8L729.6 122.1L730.5 119.8L730.5 118.1L731.1 115.7L733.1 115.2L733.2 117.1L734.1 119.5L733.2 122.4L732.3 123.3L732.3 125.2L731.8 127.3L732.2 128.8L731.3 129.9L730.4 130.7L730.2 129.5L729.1 129.9L728.4 131.4L727.3 131.4L725.5 131.4L725.0 132.1L724.3 132.6L723.4 134.0L722.3 133.5L721.9 132.1L720.3 131.1L718.5 131.8L716.7 132.3L715.7 132.8L714.2 132.1M327.8 104.6L329.6 105.5L331.4 111.5L332.8 110.3L333.2 106.7L335.0 106.2L335.5 104.3L333.2 104.3L327.8 104.6M435.8 57.9L437.2 56.2L439.4 55.7L442.6 56.7L446.2 56.4L449.8 55.7L452.5 56.4L453.9 57.9L455.0 59.3L453.0 60.7L450.2 61.9L446.8 62.8L442.6 62.1L439.0 61.9L440.3 60.5L436.7 59.5L439.0 58.6L435.8 57.9M468.3 89.6L468.6 87.7L468.3 85.8L469.4 84.2L468.6 82.5L466.1 82.0L464.5 82.8L464.0 83.9L461.5 84.9L462.2 86.6L461.5 87.5L462.7 88.7L460.9 89.9L461.5 90.8L464.2 91.1L465.9 90.1L468.3 89.6M338.9 169.8L341.6 169.8L342.7 170.7L340.9 171.2L338.9 170.3L338.9 169.8M668.1 229.5L669.6 227.4L671.2 227.6L673.7 228.4L674.2 229.5L677.4 229.8L678.3 228.6L679.8 229.5L681.4 229.8L681.8 231.4L684.6 231.9L684.6 233.8L681.4 233.3L679.4 233.1L676.9 232.6L673.7 231.9L670.4 231.0L668.5 229.8L668.1 229.5M602.8 329.6L605.3 329.4L605.9 330.8L603.9 331.3L602.8 329.6M201.9 77.1L204.2 76.1L206.2 76.1L205.3 77.8L203.1 78.7L201.9 77.1M721.6 37.9L725.2 37.9L723.4 39.8L721.6 37.9M712.2 134.2L713.9 133.0L714.4 133.3L715.7 134.0L716.0 136.1L715.1 139.0L713.9 139.9L713.0 139.0L713.1 137.1L712.2 136.1L712.2 134.2M533.2 68.8L535.0 67.1L538.1 68.1L537.7 69.7L535.0 71.1L533.2 68.8M695.7 169.6L697.9 169.8L698.8 172.6L698.6 175.0L697.5 175.7L697.5 178.1L699.5 179.7L701.8 180.7L702.0 183.5L700.2 182.1L699.3 181.9L697.9 180.5L696.3 180.9L695.7 179.0L694.8 178.3L694.5 175.2L695.4 174.5L695.4 171.7L695.7 169.6M567.8 241.9L568.9 244.7L570.0 249.7L569.5 251.4L568.7 254.0L568.2 255.9L566.6 262.0L565.3 266.5L564.6 270.6L563.9 272.5L562.5 273.2L560.8 274.1L559.8 273.4L558.3 272.5L557.8 271.3L557.1 267.5L557.1 265.8L558.0 263.7L559.0 261.1L559.2 259.4L558.7 258.2L558.3 254.7L559.0 251.8L559.9 251.8L561.7 250.9L563.5 249.5L565.0 248.0L565.5 246.9L566.0 246.1L566.9 244.5L567.1 243.1L567.8 241.9M540.8 236.2L542.0 240.7L542.7 247.1L541.8 245.4L540.9 240.7L540.8 236.2M582.2 261.1L583.1 261.3L582.7 262.0L582.2 261.1M321.9 106.0L321.9 109.1L321.9 113.1L323.0 114.8L324.6 113.1L324.2 109.3L326.0 106.0L327.3 104.8L324.2 104.6L321.9 106.0M698.3 197.1L699.9 196.1L701.1 194.9L701.8 194.0L703.6 192.1L704.5 190.2L705.8 191.6L706.5 196.1L705.8 198.5L704.4 200.1L703.6 198.2L701.8 198.2L701.3 195.6L699.7 195.6L698.3 197.1M695.2 181.4L697.0 181.9L696.8 184.3L695.4 183.3L695.2 181.4M745.4 226.7L748.5 226.5L751.2 225.0L752.3 223.6L751.9 226.2L749.0 228.4L746.0 227.9L745.4 226.7M773.6 261.3L776.3 263.7L779.0 266.3L778.1 266.5L775.0 263.9L773.6 261.3M373.0 100.5L375.4 100.5L378.9 100.5L380.4 102.2L382.5 100.3L384.7 102.7L384.9 100.5L383.8 98.9L383.2 96.5L380.2 95.8L378.6 94.4L379.8 91.1L377.5 91.8L376.1 93.9L374.5 96.5L373.0 100.5M714.4 216.5L715.8 215.1L717.6 214.4L719.8 215.3L720.1 218.6L721.6 221.2L723.0 220.3L725.7 217.2L728.2 217.7L730.5 218.9L732.3 219.6L735.7 221.2L738.6 222.4L740.9 225.3L742.7 228.8L744.2 228.1L744.5 229.5L743.1 231.0L744.5 232.6L746.2 235.0L747.2 236.2L748.5 237.8L749.9 238.3L748.5 238.8L746.7 238.1L744.2 237.6L742.4 234.5L740.9 232.9L739.2 231.7L737.4 232.2L736.6 234.5L735.2 235.5L732.5 235.0L730.7 232.6L729.1 232.4L728.2 233.1L726.4 233.3L727.3 230.5L728.2 229.5L727.3 227.6L726.2 225.8L723.4 224.1L721.8 223.9L719.2 222.0L718.0 222.9L717.4 221.5L716.2 220.1L718.9 218.9L718.9 217.2L716.6 217.0L714.4 216.5M749.9 219.8L752.4 221.7L754.0 224.6L753.0 224.6L751.4 222.0L749.9 219.8M726.1 34.4L730.5 34.9L735.0 33.9L737.7 35.6L732.3 37.9L727.9 36.3L726.1 34.4M741.3 34.9L748.5 35.3L746.7 36.3L741.3 34.9M572.1 43.9L575.4 44.6L579.9 46.0L582.5 45.8L579.0 44.1L578.6 41.5L580.8 39.6L583.1 37.5L587.0 34.6L591.5 32.7L597.8 31.8L602.8 31.5L601.9 32.5L595.1 34.6L588.8 36.0L584.3 38.4L581.7 40.8L580.8 43.2L583.1 44.3L577.2 45.5L573.6 45.1L572.1 43.9M180.7 70.2L182.5 70.7L181.3 71.6L179.3 70.7L180.7 70.2M789.2 295.0L790.6 296.4L792.1 297.1L793.0 299.7L794.0 301.2L794.9 302.6L797.6 303.3L799.6 302.8L799.3 305.0L798.5 306.4L796.9 306.4L796.6 308.3L794.9 311.1L793.7 312.3L792.6 311.4L793.5 309.5L792.6 308.0L791.2 307.1L792.6 305.4L792.8 302.1L792.1 300.4L792.1 300.0L789.9 297.1L789.2 295.0M789.2 309.5L790.1 311.4L791.9 311.4L791.9 312.5L791.2 313.7L790.1 315.4L789.2 316.3L788.5 317.5L787.1 318.0L786.5 319.9L785.8 322.3L784.0 323.4L783.1 323.9L781.5 323.9L780.4 323.2L778.4 323.0L778.1 322.3L779.2 320.4L781.3 318.0L783.8 316.8L785.3 315.4L786.3 314.2L787.2 312.5L788.1 310.6L789.2 309.5M541.8 65.7L543.6 65.4L544.5 67.3L542.2 68.3L541.8 65.7M336.2 110.7L339.5 110.7L342.7 110.3L342.2 108.8L339.5 109.3L337.0 110.0L336.2 110.7M689.6 193.5L691.6 191.4L693.8 188.3L693.4 187.3L691.8 189.7L689.6 193.5M358.9 169.6L361.7 169.8L361.4 170.7L358.9 170.7L358.9 169.6M240.8 85.1L242.6 85.6L243.5 88.0L244.0 89.6L241.7 88.0L240.8 85.1M295.5 77.1L296.4 75.9L295.5 77.3M578.4 263.2L579.5 263.2L579.0 264.2L578.4 263.2M734.1 104.3L735.4 102.7L736.8 103.6L736.3 101.5L735.2 99.8L735.9 97.0L738.3 97.2L736.8 93.7L736.3 90.6L736.5 87.3L735.4 84.7L734.7 86.3L733.8 88.9L734.3 92.5L734.0 94.9L734.3 97.5L734.0 99.6L734.1 104.3M702.6 183.8L704.7 184.3L703.8 187.3L703.3 189.5L702.6 187.3L702.6 183.8M494.5 120.5L494.5 117.6L494.1 116.2L495.9 115.7L497.0 117.4L496.6 120.5L495.4 121.2L494.5 120.5M709.0 221.5L714.0 222.4L713.1 221.0L709.7 220.3L709.0 221.5M647.1 25.4L651.6 22.8L657.0 21.6L666.0 24.2L660.6 25.6L658.8 27.5L653.4 28.0L648.9 27.0L647.1 25.4M411.2 341.5L414.8 341.9L415.2 343.4L412.1 342.7L411.2 341.5M717.1 135.2L717.8 135.9L720.1 134.5L721.0 133.3L720.7 132.3L718.9 132.1L717.6 132.8L717.1 135.2M501.6 123.8L503.8 123.1L507.2 122.6L506.5 124.7L506.8 126.6L505.1 125.7L501.6 123.8M757.5 227.2L759.2 228.8L761.9 231.9L764.6 233.6L767.3 235.9L769.1 238.3L766.4 235.5L762.8 232.4L760.1 230.0L757.5 227.2M622.7 197.3L622.4 194.0L622.9 190.2L624.3 191.4L625.2 193.0L626.1 195.6L625.8 198.0L623.4 199.2L622.7 197.3M171.2 62.6L174.4 63.1L176.8 63.3L175.3 64.0L171.7 63.6L171.2 62.6M693.6 226.5L695.4 226.7L695.4 222.9L696.3 220.1L696.8 219.3L699.0 221.7L699.7 224.3L700.4 223.1L698.8 220.8L697.5 217.9L699.2 215.8L700.8 215.6L697.9 215.6L696.5 216.5L695.2 214.1L695.2 212.2L697.0 212.2L699.7 211.3L702.7 212.2L704.0 209.9L702.6 212.5L700.9 212.7L698.6 212.5L696.1 212.7L694.8 213.2L694.3 215.6L693.6 217.7L693.1 221.7L692.5 220.1L693.8 224.1L693.6 226.5M650.4 200.1L652.3 201.1L654.3 201.1L655.7 203.2L657.5 205.8L659.3 208.2L660.4 208.9L661.3 209.4L663.3 210.8L664.5 212.2L665.6 214.8L666.9 217.0L667.6 218.9L669.2 220.5L669.6 222.4L669.2 227.2L667.2 227.4L666.0 225.3L663.1 222.9L661.1 220.1L660.0 217.9L659.1 215.3L657.5 212.9L656.8 210.8L655.6 208.7L654.7 207.5L653.4 204.9L652.3 203.2L650.5 201.6L650.4 200.1M692.9 236.2L696.1 236.2L695.0 237.6L692.9 236.2M314.2 102.7L317.1 102.9L320.6 102.0L322.4 103.2L327.3 103.2L327.8 101.3L326.9 99.6L324.2 97.7L320.6 98.4L318.8 99.6L314.2 102.7M499.1 26.8L501.8 24.4L508.1 23.7L511.7 23.0L518.9 22.8L527.8 23.5L523.4 25.6L517.1 27.3L518.0 29.6L512.6 30.8L509.0 31.8L505.4 30.1L503.6 28.2L499.1 26.8M211.0 254.9L211.8 255.2L211.4 255.9L211.0 254.9M694.8 158.6L696.1 161.5L697.4 159.6L698.1 155.1L697.5 153.4L696.5 154.1L695.2 156.5L694.8 158.6M531.8 221.5L532.5 225.3L533.6 230.0L535.0 233.8L534.3 233.6L532.9 229.8L531.8 226.5L531.8 221.5M739.0 309.9L742.0 310.9L745.4 310.4L745.4 313.0L744.7 315.9L742.9 316.8L741.3 316.6L740.2 314.7L739.0 311.1L739.0 309.9M356.3 338.2L358.3 340.3L360.5 342.9L362.4 343.4L359.2 344.1L356.5 344.8L352.9 343.8L350.2 342.2L352.9 341.2L355.1 339.8L356.3 338.2M701.8 236.9L703.8 234.8L707.6 233.3L706.5 234.5L703.8 236.7L701.8 237.6L701.8 236.9M368.4 187.8L370.0 187.8L370.0 189.5L368.4 189.5L368.4 187.8M249.1 93.0L251.2 94.1L254.3 95.1L255.5 96.3L258.2 98.6L255.7 98.2L253.7 96.8L250.7 94.9L249.1 93.0M778.3 248.5L779.3 250.4L780.4 252.5L781.5 255.6L782.9 259.7M536.4 215.8L537.7 212.7L540.2 212.7L540.6 214.8L538.6 219.3L536.4 217.2L536.4 215.8M698.3 185.2L700.0 185.9L700.9 188.8L699.9 190.7L699.0 189.9L698.3 185.2M302.7 86.6L304.1 89.6L305.4 92.5L306.3 91.3L304.9 88.2L303.1 85.8L302.7 86.6M299.1 87.7L300.4 89.4L300.9 91.3L300.0 88.9L299.1 87.7M802.3 45.1L800.5 44.3L802.3 43.9M498.8 80.6L501.8 80.4L501.6 82.3L499.7 82.5L498.8 80.6" fill="none" stroke="#000" stroke-width="4.6" stroke-linejoin="round" stroke-linecap="round"/><path d="M304.5 28.9L309.0 27.0L310.8 28.2L307.2 29.6L304.5 28.9M316.2 27.7L310.8 28.0L305.4 26.8L306.3 24.2L309.9 21.1L314.4 21.8L316.2 24.9L316.2 27.7M335.9 38.7L342.2 41.0L346.7 42.0L352.0 44.3L357.4 46.5L359.2 48.6L361.9 52.2L366.4 54.5L369.1 55.7L366.4 57.6L363.7 60.2L362.8 63.1L360.1 65.2L357.1 64.0L353.8 62.8L350.2 61.9L346.7 60.9L340.4 60.7L339.8 58.6L346.7 57.9L347.5 55.5L349.3 53.4L344.9 51.2L341.3 50.3L338.6 48.6L334.1 47.7L330.5 47.0L325.1 46.7L321.2 45.1L318.5 42.2L320.6 39.4L326.0 38.4L332.3 38.7L335.9 38.7M255.2 42.9L255.9 38.7L258.8 37.2L264.1 37.0L268.6 37.5L272.2 39.1L269.5 42.0L265.6 43.9L261.4 44.3L257.9 44.8L255.2 42.9M300.0 34.4L304.5 35.1L305.4 33.2L302.7 31.5L298.2 32.5L300.0 34.4M292.8 34.1L297.3 33.2L299.1 35.1L294.6 35.3L292.8 34.1M278.5 27.5L283.9 26.3L285.7 27.3L281.2 28.2L278.5 27.5M289.2 35.1L293.7 34.9L291.9 35.8L289.2 35.1M335.0 38.9L341.3 39.4L340.4 40.8L335.9 40.5L335.0 38.9M306.3 35.6L311.7 34.6L312.6 36.3L307.2 36.5L306.3 35.6M335.0 36.5L326.9 36.8L317.9 36.5L313.5 35.6L314.0 32.7L319.7 32.0L328.7 32.3L334.1 32.7L336.8 34.4L335.0 36.5M292.8 28.7L290.1 27.3L293.7 25.6L300.0 26.1L301.8 27.5L297.3 28.7L292.8 28.7M335.9 32.7L330.5 32.5L321.5 32.3L318.8 30.8L323.3 29.4L319.7 27.7L313.5 26.6L310.8 24.9L313.5 22.8L316.2 21.6L321.5 20.2L326.9 18.7L335.9 17.3L346.7 16.4L357.4 16.8L366.4 18.0L369.1 19.2L363.7 20.4L357.4 22.1L352.0 24.2L345.8 25.8L341.3 27.5L343.1 28.9L337.7 30.4L335.9 32.7M300.9 49.8L305.4 48.1L308.1 49.8L305.4 51.5L300.9 49.8M274.9 29.9L282.1 28.9L287.5 29.4L282.1 30.6L274.9 29.9M269.5 34.4L274.0 35.3L282.1 35.3L288.4 34.9L290.1 33.4L286.6 32.3L280.3 31.8L274.9 32.3L270.4 32.7L269.5 34.4M298.2 43.2L303.6 45.1L306.1 41.7L305.0 38.9L300.9 38.2L295.5 41.3L298.2 43.2M267.7 32.7L262.3 32.3L258.8 31.1L264.1 29.2L270.4 29.4L271.3 31.3L267.7 32.7M300.0 37.9L303.6 37.5L302.7 38.4L300.0 37.9M309.0 42.2L311.7 42.4L315.8 41.3L317.4 38.9L314.4 37.7L309.0 38.2L308.1 40.3L309.0 42.2M323.3 61.2L326.0 63.3L330.5 65.2L333.6 64.7L331.4 62.1L329.6 60.5L327.6 58.3L324.8 56.7L323.0 59.3L323.3 61.2M266.8 44.3L268.6 41.0L274.9 41.0L278.5 40.5L282.1 40.8L286.6 39.8L291.0 41.3L292.8 44.8L295.5 46.7L298.2 48.6L293.7 50.0L288.4 49.6L282.1 50.0L276.7 51.0L272.2 49.3L268.6 47.7L266.8 44.3" fill="none" stroke="#000" stroke-width="5.6" stroke-linejoin="round" stroke-linecap="round"/></g><clipPath id="cp0"><rect x="156.5" y="58.0" width="645.8" height="355.7"/></clipPath><clipPath id="cp1"><rect x="156.5" y="494.7" width="645.8" height="355.7"/></clipPath><clipPath id="cp2"><rect x="156.5" y="931.4" width="645.8" height="355.7"/></clipPath></defs>
<rect width="950" height="1573" fill="#fff"/>
<text x="477.2" y="40" text-anchor="middle" font-size="50.7" font-weight="bold" fill="#000">Active - Neutral ENSO</text><g clip-path="url(#cp0)"><path fill="#fee275" d="M471.5 64.5L481.7 64.5L481.7 66.5L471.5 66.5ZM615.4 63.1L632.5 63.1L632.5 65.2L615.4 65.2ZM756.1 74.2L773.2 74.2L773.2 75.9L756.1 75.9ZM164.5 345.1L169.6 343.4L170.5 348.5L167.1 355.4L164.5 353.7ZM326.5 379.2L335.1 379.2L336.8 384.4L328.2 384.4ZM358.9 384.4L367.5 382.7L374.3 386.1L377.7 392.9L374.3 399.7L369.2 404.8L362.3 406.5L358.9 399.7Z"/><path fill="#c8f8fd" d="M176.5 79.3L188.4 78.8L189.3 81.5L177.3 81.5ZM199.5 78.5L215.7 77.1L219.1 78.5L212.3 81.0L200.3 81.0ZM369.2 162.0L379.4 160.3L380.2 165.4L372.6 167.1ZM383.7 169.7L391.3 167.1L390.5 170.5L385.4 171.4ZM358.9 175.7L363.2 174.8L363.2 177.4L359.8 178.2Z"/><path fill="#fdaa1c" d="M231.0 121.1L235.3 119.7L239.6 122.8L236.1 124.8L231.9 124.2ZM156.0 156.1L161.1 154.9L164.2 157.8L164.5 161.7L161.1 163.7L156.0 163.4ZM156.0 184.2L162.8 179.1L169.6 175.7L176.5 172.6L183.3 172.6L188.4 175.7L192.7 178.2L194.4 181.6L191.8 185.0L185.0 185.9L178.2 185.0L173.1 182.5L167.9 183.3L162.8 187.6L159.4 192.7L156.0 196.1ZM261.7 228.5L266.8 221.7L273.7 218.3L275.4 228.5L280.5 237.1L261.7 237.1ZM265.1 192.7L270.3 194.4L278.8 202.9L285.6 211.5L290.7 220.0L292.4 226.8L285.6 226.8L280.5 220.0L275.4 211.5L270.3 204.7L266.8 197.8ZM285.6 226.8L299.2 226.0L306.1 228.5L312.9 231.9L319.7 233.6L319.7 237.1L282.2 237.1ZM307.8 208.1L312.9 206.4L319.7 204.7L319.7 220.0L311.2 218.3L307.8 213.2ZM288.2 180.8L291.6 182.5L290.7 186.7L288.2 185.9ZM316.3 192.7L324.8 190.2L329.9 192.7L331.6 199.5L328.2 206.4L324.8 211.5L316.3 212.3ZM316.3 216.6L322.3 218.3L323.1 237.1L316.3 237.1ZM360.6 237.1L365.7 228.5L372.6 224.3L379.4 218.3L381.9 216.6L381.1 221.7L376.0 226.8L372.6 233.6L374.3 237.1ZM405.0 224.3L413.5 220.0L423.7 214.9L434.0 210.6L444.2 207.2L449.3 206.4L451.0 211.5L450.2 237.1L413.5 237.1L408.4 230.2ZM452.7 237.1L456.1 223.4L462.9 220.0L469.8 216.6L481.7 214.9L481.7 237.1ZM478.1 63.1L615.4 62.8L617.1 66.2L478.1 66.2ZM540.4 60.0L565.1 60.0L565.1 63.1L540.4 63.1ZM507.1 117.7L512.3 116.8L513.1 120.2L508.0 120.8ZM562.6 98.9L565.1 101.5L563.4 104.0L561.7 101.5ZM577.9 175.7L584.7 174.0L595.0 175.7L600.1 179.1L598.4 184.2L591.5 185.9L583.0 185.9L577.9 182.5ZM617.1 175.7L623.9 171.4L632.5 170.5L642.7 171.4L642.7 180.8L632.5 182.5L622.2 182.5L617.1 179.9ZM608.6 192.7L615.4 196.1L623.9 199.5L627.4 194.4L632.5 192.7L642.7 192.7L642.7 197.0L632.5 197.8L625.7 202.1L617.1 200.4L610.3 196.1ZM562.6 189.3L569.4 187.6L574.5 191.0L574.5 197.8L571.9 201.2L567.7 196.1L564.3 192.7ZM526.7 208.1L533.6 204.7L537.8 208.1L537.0 214.9L530.2 215.7L527.6 212.3ZM559.1 218.3L567.7 214.9L574.5 216.6L581.3 218.3L584.7 221.7L581.3 228.5L574.5 233.6L567.7 237.1L559.1 237.1L557.4 226.8ZM593.3 228.5L601.8 226.8L608.6 230.2L610.3 237.1L593.3 237.1ZM601.8 204.7L608.6 202.9L612.0 208.1L610.3 214.9L605.2 216.6L601.8 211.5ZM629.1 204.7L635.9 208.1L639.3 214.9L637.6 218.3L632.5 216.6L629.1 211.5ZM477.3 218.3L485.8 213.2L489.2 214.9L487.5 221.7L482.4 226.8L477.3 228.5ZM504.6 231.9L518.2 230.2L528.5 231.9L530.2 237.1L504.6 237.1ZM729.7 136.4L736.5 133.9L750.1 133.0L760.4 133.9L762.1 138.1L758.7 141.6L750.1 141.6L743.3 142.4L739.9 148.4L741.6 155.2L738.2 156.9L736.5 150.1L733.9 143.3L729.7 139.9ZM750.1 167.1L753.5 158.6L760.4 156.9L770.6 158.6L784.2 156.9L794.5 155.2L804.7 154.3L804.7 177.4L794.5 180.8L787.7 184.2L777.4 185.9L767.2 185.0L760.4 180.8L753.5 174.0ZM791.1 187.6L797.9 182.5L804.7 180.8L804.7 199.5L794.5 196.1L791.9 192.7ZM697.3 184.2L702.4 180.8L712.6 177.4L721.1 174.0L726.3 172.3L729.7 177.4L726.3 184.2L719.4 187.6L714.3 192.7L710.9 197.8L704.1 196.1L699.0 191.0ZM663.2 180.8L670.0 177.4L678.5 176.5L679.4 180.8L673.4 184.2L666.6 185.9ZM639.3 174.0L646.1 175.7L647.8 179.1L644.4 180.8L639.3 179.9ZM651.2 156.9L654.6 154.3L656.3 156.9L652.9 162.0L651.2 160.3ZM651.2 201.2L659.8 197.8L666.6 204.7L675.1 208.1L690.5 207.2L692.2 212.3L681.9 217.4L675.1 224.3L670.0 237.1L651.2 237.1L646.1 221.7L649.5 211.5ZM775.7 228.5L785.9 226.0L791.1 228.5L789.4 237.1L777.4 237.1ZM155.1 286.3L166.2 287.2L181.6 288.0L196.9 288.9L202.0 287.2L207.2 283.7L212.3 278.6L219.1 275.2L220.8 271.8L217.4 266.7L215.7 261.6L217.4 256.5L212.3 252.2L217.4 251.3L232.7 250.5L248.1 248.8L258.3 244.5L265.1 239.4L268.5 235.1L319.7 235.1L319.7 304.2L309.5 300.8L300.9 297.4L289.0 294.0L275.4 293.1L258.3 294.8L241.3 296.5L231.0 300.8L229.3 304.2L236.1 305.9L244.7 311.0L254.9 314.4L265.1 317.9L266.8 320.4L251.5 322.1L241.3 319.6L232.7 314.4L224.2 312.7L215.7 309.3L208.9 304.2L203.7 300.8L202.0 307.6L200.3 316.1L202.0 321.3L207.2 328.1L210.6 336.6L208.9 340.0L195.2 338.3L188.4 338.3L186.7 334.9L181.6 328.1L174.8 321.3L172.2 317.9L176.5 312.7L183.3 307.6L185.0 302.5L179.9 300.8L169.6 299.9L162.8 299.1L155.1 299.9ZM162.8 254.8L183.3 252.7L186.7 255.1L176.5 257.3L162.8 258.2ZM155.1 334.9L161.1 338.3L162.8 341.7L155.1 342.6ZM251.5 377.5L258.3 374.1L263.4 375.8L266.8 380.9L260.0 382.7L253.2 380.9ZM316.3 235.1L324.8 235.1L328.2 244.5L335.1 251.3L336.8 259.9L334.2 268.4L331.6 276.9L332.5 283.7L336.8 292.3L340.2 300.8L345.3 307.6L350.4 311.0L352.1 316.1L347.0 317.9L343.6 324.7L346.1 334.9L347.8 345.1L345.3 346.8L341.9 340.0L336.8 329.8L331.6 321.3L326.5 312.7L321.4 304.2L316.3 300.8ZM335.1 270.1L338.5 261.6L343.6 249.6L352.1 244.5L369.2 246.2L376.0 254.8L384.5 259.9L389.6 268.4L398.1 276.9L408.4 283.7L411.8 287.2L406.7 300.8L408.4 309.3L403.3 319.6L396.4 321.3L391.3 316.1L382.8 311.0L374.3 307.6L369.2 300.8L367.5 294.0L360.6 290.6L355.5 287.2L352.1 292.3L347.0 292.3L341.9 287.2L336.8 278.6ZM389.6 258.2L396.4 259.9L403.3 266.7L410.1 275.2L416.9 278.6L428.8 276.9L437.4 278.6L444.2 282.0L442.5 285.5L434.0 287.2L420.3 288.9L416.9 285.5L410.1 278.6L403.3 275.2L393.0 270.1L389.6 265.0ZM410.1 307.6L415.2 312.7L420.3 321.3L422.0 324.7L416.9 328.1L411.8 328.1L408.4 321.3ZM396.4 247.9L406.7 242.8L413.5 239.4L420.3 236.9L427.1 239.4L427.1 244.5L416.9 249.6L410.1 253.1L403.3 253.1L398.1 251.3ZM437.4 235.1L447.6 235.1L444.2 242.8L439.1 244.5L437.4 241.1ZM471.5 246.2L481.7 246.2L481.7 253.1L474.9 254.8L471.5 251.3ZM374.3 365.6L382.8 363.9L387.9 365.6L386.2 370.7L381.1 372.4L379.4 379.2L377.7 384.4L376.0 380.9L374.3 372.4ZM357.2 409.9L369.2 408.2L374.3 411.6L374.3 415.1L357.2 415.1ZM496.1 242.8L502.9 239.4L513.1 235.1L526.7 235.1L528.5 242.8L523.3 246.2L513.1 247.9L504.6 249.6L499.5 251.3L496.1 247.9ZM543.8 239.4L550.6 235.1L559.1 235.1L564.3 242.8L560.9 249.6L555.7 253.1L550.6 254.8L545.5 249.6ZM496.1 259.9L501.2 258.2L509.7 261.6L518.2 259.9L525.0 259.9L530.2 265.0L535.3 270.1L538.7 275.2L542.1 282.0L547.2 292.3L548.9 300.8L543.8 302.5L538.7 295.7L533.6 292.3L526.7 297.4L521.6 302.5L513.1 305.9L506.3 304.2L502.9 295.7L501.2 287.2L499.5 276.9L496.1 268.4ZM504.6 309.3L511.4 311.0L516.5 317.9L519.9 326.4L525.0 331.5L526.7 334.9L521.6 336.6L516.5 331.5L511.4 326.4L508.0 319.6L504.6 314.4ZM559.1 258.2L564.3 253.1L571.1 246.2L576.2 241.1L584.7 235.1L642.7 235.1L642.7 290.6L632.5 292.3L623.9 290.6L615.4 287.2L605.2 285.5L598.4 287.2L589.8 285.5L581.3 283.7L572.8 282.0L564.3 280.3L560.9 275.2L559.1 266.7ZM623.9 338.3L629.1 341.7L635.9 346.8L642.7 348.5L642.7 367.3L638.4 365.6L637.6 355.4L632.5 352.0L627.4 346.8L623.9 341.7ZM526.7 358.8L531.9 358.8L533.6 362.2L528.5 363.9ZM554.0 363.9L557.4 363.9L555.7 368.2L553.2 367.3ZM639.3 249.6L647.8 247.9L652.9 251.3L651.2 259.9L646.1 265.0L639.3 265.0ZM639.3 273.5L646.1 272.7L651.2 275.2L656.3 278.6L654.6 285.5L647.8 288.9L639.3 287.2ZM663.2 235.1L673.4 235.1L671.7 241.1L666.6 242.8L663.2 239.4ZM639.3 341.7L644.4 338.3L647.8 345.1L652.9 352.0L659.8 355.4L663.2 360.5L661.5 367.3L656.3 370.7L651.2 372.4L646.1 370.7L639.3 365.6ZM707.5 369.0L712.6 360.5L719.4 362.2L724.6 365.6L728.0 372.4L729.7 377.5L724.6 379.2L721.1 384.4L719.4 389.5L724.6 392.9L721.1 396.3L716.0 394.6L714.3 389.5L717.7 384.4L714.3 379.2L709.2 375.8ZM794.5 285.5L799.6 285.5L800.4 288.9L795.3 288.9ZM336.3 267.6L340.5 257.1L343.7 247.6L348.9 244.4L355.3 246.5L364.7 248.6L370.0 254.9L374.2 260.2L380.5 261.3L384.7 265.5L388.9 270.7L393.2 276.0L397.4 280.2L401.6 285.5L403.7 293.9L405.8 301.3L405.8 309.7L403.7 316.0L397.4 319.2L392.1 317.1L386.8 313.9L380.5 308.6L375.3 303.4L370.0 298.1L367.9 292.8L364.7 288.6L359.5 291.8L354.2 294.9L351.1 290.7L348.9 285.5L342.6 285.5L339.5 281.3L336.3 276.0Z"/><path fill="#ffffff" d="M307.8 270.1L314.6 268.4L319.7 270.1L319.7 280.3L312.9 279.5L307.8 275.2ZM307.8 288.9L314.6 287.2L319.7 288.9L319.7 299.1L312.9 297.4L308.6 294.0ZM316.3 273.5L324.8 275.2L328.2 283.7L324.8 287.2L316.3 288.9ZM381.1 282.0L386.2 278.6L389.6 282.0L386.2 288.9L381.9 288.0ZM603.5 261.6L610.3 259.9L615.4 265.0L618.8 270.1L613.7 273.5L606.9 271.8L602.6 266.7ZM583.0 270.1L588.1 268.4L591.5 273.5L588.1 276.9L583.9 276.1ZM620.5 270.1L629.1 268.4L637.6 271.8L641.0 275.2L632.5 276.9L623.9 274.4ZM371.1 257.1L374.2 258.1L374.2 262.3L371.6 262.3Z"/><path fill="#93dffb" d="M188.4 91.3L195.2 88.4L207.2 86.6L220.8 86.6L232.7 88.7L241.3 91.3L242.1 93.8L236.1 97.2L227.6 98.9L214.0 99.8L207.2 97.2L196.9 94.7L190.1 93.0ZM223.4 74.7L245.5 74.2L244.7 76.2L224.2 76.4ZM366.6 70.3L403.3 69.9L404.1 72.5L369.2 73.7ZM333.3 155.2L338.5 146.7L343.6 145.0L348.7 150.1L349.5 156.9L345.3 160.3L338.5 160.3ZM670.0 85.3L683.6 82.7L700.7 81.9L716.0 83.6L724.6 88.7L721.1 93.8L709.2 94.7L695.6 94.7L683.6 93.8L673.4 93.0L670.0 90.4ZM226.8 323.8L231.0 324.7L236.1 329.8L241.3 333.2L239.6 336.6L236.1 334.9L231.0 331.5L227.6 327.2ZM449.3 249.6L452.7 250.5L452.7 255.6L450.2 255.6ZM363.2 309.3L367.5 308.5L370.9 314.4L376.0 319.6L382.8 323.0L386.2 328.1L387.9 336.6L382.8 340.0L376.0 338.3L369.2 338.3L364.0 338.3L362.3 331.5L364.0 323.0L365.7 316.1ZM581.3 396.3L588.1 392.9L598.4 392.9L606.9 395.4L606.0 401.4L598.4 404.8L591.5 408.2L584.7 409.9L579.6 408.2L583.0 403.1ZM535.3 251.3L539.5 249.6L540.4 254.8L536.1 256.5ZM707.5 239.4L714.3 236.9L721.1 237.7L729.7 242.8L736.5 246.2L746.7 247.9L760.4 249.6L775.7 250.5L777.4 253.1L768.9 254.8L760.4 256.5L746.7 256.5L733.1 254.8L722.9 253.1L719.4 256.5L726.3 261.6L736.5 265.0L750.1 268.4L763.8 273.5L774.0 278.6L777.4 283.7L770.6 283.7L760.4 282.0L750.1 280.3L743.3 278.6L734.8 275.2L726.3 271.8L717.7 268.4L709.2 266.7L702.4 265.0L699.0 261.6L702.4 256.5L705.8 249.6L706.7 242.8ZM363.7 308.6L367.9 309.7L372.1 311.8L376.3 316.0L379.5 320.2L382.6 324.4L384.7 330.7L382.6 336.0L364.7 336.0L362.6 328.6L363.7 320.2Z"/><path fill="#fd5a02" d="M284.7 219.1L287.3 220.0L288.2 224.3L285.6 225.1ZM576.2 218.3L581.3 216.6L583.0 220.0L579.6 223.4L577.1 221.7ZM656.3 197.8L661.5 197.0L663.2 202.9L658.1 204.7ZM646.1 209.8L649.5 208.9L650.4 214.9L647.0 216.6ZM265.1 246.2L275.4 243.7L285.6 242.8L289.0 247.9L290.7 254.8L283.9 254.8L278.8 249.6L268.5 248.8ZM263.4 259.9L268.5 258.2L270.3 262.4L266.0 264.1ZM297.5 253.1L300.9 252.2L301.8 254.8L298.4 255.1ZM457.8 249.6L462.9 251.3L465.5 256.5L461.2 257.3L458.7 253.1ZM338.5 268.4L343.6 253.1L352.1 249.6L365.7 251.3L372.6 259.9L382.8 265.0L386.2 275.2L393.0 282.0L401.6 287.2L405.0 294.0L403.3 302.5L405.0 309.3L399.9 316.1L393.0 316.1L386.2 311.0L376.0 304.2L370.9 297.4L374.3 288.9L369.2 285.5L360.6 282.0L352.1 278.6L345.3 280.3L340.2 276.9ZM497.8 259.9L504.6 261.6L506.3 270.1L502.9 273.5L499.5 270.1ZM516.5 261.6L525.0 259.9L530.2 266.7L531.9 275.2L530.2 280.3L525.0 282.0L521.6 287.2L519.9 294.0L513.1 295.7L508.0 290.6L504.6 283.7L506.3 278.6L513.1 276.9L518.2 271.8L518.2 266.7ZM579.6 253.1L586.4 249.6L595.0 250.5L600.1 254.8L598.4 259.9L591.5 261.6L584.7 263.3L579.6 259.9ZM620.5 280.3L629.1 276.9L637.6 277.8L642.7 280.3L639.3 287.2L632.5 288.9L623.9 287.2L619.7 284.6ZM639.3 278.6L644.4 277.8L646.1 281.2L639.3 282.9ZM685.3 259.9L688.7 259.0L689.6 265.8L686.2 272.7L684.5 268.4ZM728.0 282.0L733.1 283.7L735.6 287.2L732.2 288.9L728.8 286.3ZM337.4 271.8L341.6 260.2L344.7 250.7L351.1 246.5L357.4 247.6L364.7 249.7L368.9 256.0L372.1 263.4L377.4 263.4L382.6 266.5L385.8 272.8L388.9 278.1L393.2 282.3L397.4 285.5L400.5 290.7L402.6 297.1L401.6 303.4L399.5 309.7L397.4 314.9L393.2 316.0L388.9 312.8L384.7 307.6L379.5 303.4L374.2 299.2L370.0 296.0L371.1 290.7L374.2 286.5L372.1 282.3L365.8 280.2L361.6 281.3L357.4 278.1L354.2 276.0L348.9 276.0L344.7 273.9L340.5 274.9ZM339.5 290.7L342.6 294.9L345.8 301.3L350.0 304.4L354.2 307.6L353.2 309.7L348.9 308.6L344.7 305.5L341.6 300.2Z"/><path fill="#fdaa1c" d="M343.7 266.5L347.9 265.5L351.1 269.7L348.9 273.9L344.7 272.8ZM354.2 280.2L359.5 278.1L364.7 281.3L366.8 285.5L363.7 290.7L358.4 292.8L354.2 288.6Z"/><path fill="#ffffff" d="M379.5 286.5L384.7 282.3L388.9 282.3L390.0 286.5L385.8 289.7L381.6 289.7Z"/><path fill="#5cb8fb" d="M741.6 253.1L748.4 252.2L757.0 253.1L758.7 255.6L750.1 256.5L743.3 255.6ZM757.0 271.8L763.8 272.7L770.6 278.6L767.2 280.3L760.4 276.9L757.0 274.4ZM700.7 259.9L705.8 258.2L707.5 264.1L702.4 265.0Z"/><path fill="#e3200b" d="M345.3 254.8L352.1 251.3L362.3 253.1L367.5 259.9L365.7 270.1L358.9 273.5L352.1 270.1L347.0 265.0ZM369.2 273.5L376.0 271.8L379.4 278.6L376.0 285.5L370.9 283.7ZM379.4 292.3L384.5 290.6L389.6 295.7L391.3 304.2L387.9 307.6L382.8 304.2L379.4 299.1ZM499.5 263.3L503.7 264.1L504.6 268.4L500.3 269.3ZM583.0 254.8L588.1 253.1L589.8 258.2L585.6 259.9ZM625.7 281.2L632.5 279.5L635.0 282.9L629.1 285.5ZM348.9 252.8L354.2 249.7L361.6 251.8L366.8 256.0L367.9 262.3L364.7 267.6L361.6 271.8L357.4 269.7L354.2 265.5L351.1 261.3L348.9 257.1ZM370.0 276.0L374.2 272.8L378.4 274.9L379.5 280.2L378.4 285.5L374.2 286.5L371.1 282.3ZM379.5 293.9L383.7 291.8L386.8 294.9L388.9 301.3L387.9 306.5L384.7 307.6L381.6 303.4L379.5 299.2Z"/><path fill="#b00404" d="M357.2 254.8L362.3 254.8L363.2 259.9L358.9 261.6ZM357.4 256.0L360.5 254.9L362.6 258.1L361.6 261.3L358.4 261.3Z"/><use href="#coast" transform="translate(0,58.0)"/></g><rect x="156.5" y="58.0" width="645.8" height="355.7" fill="none" stroke="#000" stroke-width="2.2"/><path d="M317.9 58.0v7M317.9 413.7v-7M479.4 58.0v7M479.4 413.7v-7M640.8 58.0v7M640.8 413.7v-7M156.5 129.1h7M802.3 129.1h-7M156.5 200.3h7M802.3 200.3h-7M156.5 271.4h7M802.3 271.4h-7M156.5 342.6h7M802.3 342.6h-7" stroke="#000" stroke-width="1.8" fill="none"/><text x="138.5" y="71.5" text-anchor="end" font-size="39.2" fill="#262626">90N</text><text x="138.5" y="142.6" text-anchor="end" font-size="39.2" fill="#262626">60N</text><text x="138.5" y="213.8" text-anchor="end" font-size="39.2" fill="#262626">30N</text><text x="138.5" y="284.9" text-anchor="end" font-size="39.2" fill="#262626">0</text><text x="138.5" y="356.1" text-anchor="end" font-size="39.2" fill="#262626">30S</text><text x="138.5" y="427.2" text-anchor="end" font-size="39.2" fill="#262626">60S</text><text transform="translate(47.9,237.4) rotate(-90)" text-anchor="middle" font-size="44.4" font-weight="bold" fill="#262626">Weeks 1-2</text><text x="177.2" y="383.2" font-size="44" font-weight="bold" fill="#000">(a)</text><g clip-path="url(#cp1)"><path fill="#fdaa1c" d="M155.1 496.4L319.7 496.4L319.7 502.7L285.6 503.5L275.4 502.7L258.3 501.8L224.2 501.0L198.6 500.1L173.1 501.0L155.1 501.8ZM155.1 503.5L166.2 502.7L176.5 504.4L183.3 506.9L185.0 510.3L178.2 512.1L169.6 513.8L162.8 515.5L155.1 517.2ZM155.1 524.0L161.1 525.7L166.2 529.1L173.1 532.5L179.9 535.9L181.6 541.0L176.5 544.5L169.6 544.5L162.8 542.7L155.1 542.7ZM155.1 551.3L161.1 553.0L162.8 556.4L155.1 557.2ZM249.8 515.5L261.7 512.9L275.4 507.8L289.0 504.4L319.7 503.5L319.7 529.1L258.3 529.1L251.5 524.0ZM208.9 546.2L215.7 544.5L224.2 545.3L222.5 549.6L212.3 549.6ZM207.2 559.8L215.7 556.4L227.6 553.8L237.9 553.0L248.1 553.8L254.9 556.4L258.3 561.5L266.8 563.2L275.4 563.2L285.6 563.2L292.4 564.9L297.5 563.2L304.4 563.2L309.5 566.6L307.8 575.1L304.4 583.7L306.1 590.5L307.8 597.3L302.7 600.7L295.8 599.0L290.7 597.3L287.3 600.7L282.2 599.0L275.4 599.0L272.0 604.1L266.8 604.1L261.7 600.7L254.9 597.3L249.8 593.9L244.7 590.5L239.6 585.4L234.4 576.9L229.3 571.7L224.2 568.3L217.4 566.6L210.6 564.9ZM275.4 604.1L280.5 602.4L285.6 605.8L289.0 611.0L290.7 617.8L287.3 622.9L282.2 621.2L278.8 614.4L275.4 611.0ZM282.2 628.0L289.0 631.4L294.1 638.2L297.5 645.1L294.1 648.5L289.0 643.4L285.6 636.5ZM256.6 641.7L261.7 638.2L268.5 639.9L275.4 645.1L282.2 651.9L287.3 658.7L292.4 665.5L297.5 674.1L256.6 674.1L258.3 658.7ZM306.1 645.1L312.9 641.7L319.7 639.9L319.7 665.5L311.2 663.8L306.1 657.0ZM155.1 587.1L162.8 587.9L169.6 592.2L174.8 599.0L176.5 604.1L183.3 611.0L190.1 614.4L195.2 619.5L198.6 626.3L195.2 629.7L188.4 631.4L181.6 631.4L173.1 629.7L166.2 629.7L161.1 628.0L155.1 628.0ZM232.7 641.7L236.1 639.9L237.9 645.1L234.4 647.6ZM317.1 496.4L481.7 496.4L481.7 501.8L437.4 502.7L420.3 503.5L403.3 502.7L369.2 501.8L352.1 501.8L335.1 502.7L317.1 501.8ZM420.3 502.7L437.4 503.5L454.4 506.9L471.5 508.6L481.7 506.9L481.7 515.5L468.1 515.5L459.5 512.1L451.0 510.3L437.4 508.6L427.1 506.9ZM317.1 504.4L324.8 503.5L328.2 506.9L323.1 510.3L317.1 510.3ZM362.3 534.2L369.2 530.8L374.3 532.5L377.7 539.3L379.4 546.2L382.8 553.0L386.2 559.8L381.1 563.2L376.0 561.5L372.6 556.4L370.9 549.6L369.2 542.7L364.0 539.3ZM474.9 539.3L481.7 537.6L481.7 544.5L476.6 544.5ZM444.2 575.1L452.7 572.6L459.5 574.3L457.8 578.6L451.0 582.0L445.0 582.0ZM416.9 583.7L423.7 582.0L430.5 584.5L437.4 588.8L440.8 593.9L435.7 595.6L428.8 592.2L422.0 588.8ZM447.6 597.3L452.7 595.6L457.8 600.7L461.2 605.8L459.5 611.0L454.4 611.0L451.0 605.8ZM464.7 593.9L471.5 592.2L481.7 590.5L481.7 614.4L471.5 617.8L464.7 614.4L462.9 605.8ZM335.1 624.6L343.6 619.5L352.1 616.1L365.7 614.4L374.3 612.7L381.1 614.4L389.6 619.5L398.1 624.6L406.7 629.7L411.8 631.4L410.1 636.5L399.9 639.9L398.1 645.1L406.7 650.2L423.7 650.2L437.4 648.5L447.6 650.2L447.6 674.1L343.6 674.1L338.5 662.1L333.3 648.5L330.8 634.8ZM317.1 624.6L324.8 626.3L328.2 631.4L326.5 639.9L323.1 645.1L317.1 645.1ZM317.1 648.5L324.8 646.8L328.2 651.9L328.2 674.1L317.1 674.1ZM454.4 643.4L462.9 639.9L471.5 639.9L481.7 641.7L481.7 674.1L451.0 674.1L452.7 657.0ZM478.1 496.4L642.7 496.4L642.7 502.7L615.4 504.4L598.4 505.2L564.3 506.9L530.2 508.6L504.6 509.5L487.5 511.2L478.1 512.1ZM478.1 534.2L487.5 530.8L504.6 530.0L521.6 531.7L535.3 535.9L533.6 539.3L521.6 540.2L504.6 541.9L492.6 544.5L478.1 544.5ZM560.9 535.9L564.3 535.1L565.1 538.5L561.7 539.3ZM506.3 553.0L511.4 552.1L513.1 555.5L508.0 556.4ZM516.5 585.4L523.3 580.3L533.6 576.9L543.8 575.1L552.3 573.4L560.9 576.9L566.0 582.0L567.7 588.8L566.0 595.6L560.9 600.7L557.4 607.5L554.0 614.4L550.6 621.2L547.2 624.6L543.8 631.4L537.0 633.1L530.2 628.0L526.7 617.8L521.6 611.0L518.2 602.4L516.5 593.9ZM557.4 621.2L567.7 614.4L577.9 607.5L588.1 604.1L598.4 602.4L608.6 600.7L618.8 604.1L629.1 607.5L642.7 609.3L642.7 674.1L554.0 674.1L552.3 658.7L550.6 645.1L554.0 631.4ZM478.1 643.4L489.2 645.1L499.5 641.7L513.1 639.9L526.7 641.7L533.6 645.1L537.0 655.3L540.4 674.1L478.1 674.1ZM640.1 496.4L804.7 496.4L804.7 518.9L791.1 520.6L780.8 517.2L770.6 515.5L760.4 513.8L743.3 512.1L726.3 510.3L709.2 506.9L692.2 505.2L675.1 504.4L658.1 503.5L640.1 502.7ZM760.4 535.9L770.6 529.1L780.8 524.0L791.1 522.3L804.7 520.6L804.7 559.8L794.5 558.1L787.7 556.4L777.4 559.8L770.6 563.2L763.8 566.6L757.0 570.0L750.1 571.7L743.3 573.4L736.5 575.1L731.4 576.9L729.7 580.3L733.1 583.7L738.2 582.0L743.3 578.6L751.8 576.9L758.7 575.1L763.8 571.7L760.4 563.2L758.7 551.3L760.4 544.5ZM658.1 558.1L664.9 553.8L673.4 552.1L677.7 554.7L675.1 559.8L668.3 562.4L661.5 561.5ZM651.2 597.3L654.6 593.9L659.8 591.3L663.2 590.5L661.5 593.9L656.3 597.3L652.9 599.0ZM640.1 611.0L647.8 612.7L654.6 617.8L658.1 624.6L661.5 631.4L666.6 638.2L673.4 645.1L678.5 651.9L675.1 655.3L668.3 653.6L661.5 648.5L654.6 645.1L647.8 641.7L640.1 639.9ZM671.7 616.1L676.8 614.4L680.2 617.8L679.4 624.6L674.3 626.3L671.7 621.2ZM640.1 648.5L646.1 650.2L649.5 655.3L647.8 663.8L640.1 665.5ZM753.5 599.0L760.4 595.6L770.6 593.9L780.8 590.5L791.1 587.9L804.7 587.1L804.7 628.0L794.5 629.7L787.7 626.3L782.5 621.2L775.7 619.5L770.6 617.8L763.8 614.4L757.0 611.0L753.5 605.8ZM716.0 631.4L721.1 628.0L728.0 628.0L731.4 631.4L729.7 638.2L724.6 641.7L719.4 639.9ZM729.7 674.1L736.5 667.2L746.7 663.8L760.4 663.0L777.4 661.3L794.5 660.4L804.7 659.6L804.7 674.1ZM155.1 672.1L319.7 672.1L319.7 852.1L155.1 852.1ZM159.4 817.9L166.2 816.2L171.3 821.4L173.1 824.8L166.2 825.6L159.4 824.8ZM316.3 672.1L328.2 672.1L335.1 681.5L338.5 690.1L336.8 707.1L333.3 717.3L336.8 727.6L343.6 737.8L348.7 744.6L352.1 751.4L350.4 761.7L348.7 775.3L347.0 789.0L343.6 799.2L338.5 802.6L331.6 799.2L324.8 795.8L316.3 797.5ZM316.3 816.2L326.5 814.5L331.6 819.7L329.9 829.9L323.1 833.3L316.3 833.3ZM335.1 707.1L338.5 696.9L343.6 683.2L352.1 679.8L369.2 682.4L376.0 691.8L386.2 698.6L391.3 707.1L399.9 712.2L408.4 717.3L413.5 724.2L410.1 737.8L408.4 748.0L403.3 754.9L396.4 754.9L389.6 751.4L379.4 748.0L369.2 744.6L362.3 744.6L357.2 748.0L353.8 744.6L348.7 739.5L343.6 734.4L338.5 724.2L335.1 715.6ZM391.3 695.2L398.1 686.6L406.7 681.5L415.2 678.1L423.7 672.1L430.5 672.1L428.8 681.5L420.3 686.6L413.5 691.8L406.7 695.2L413.5 698.6L423.7 696.9L434.0 698.6L444.2 700.3L454.4 702.0L461.2 705.4L461.2 712.2L451.0 713.9L442.5 710.5L434.0 712.2L427.1 717.3L420.3 720.7L416.9 724.2L413.5 720.7L406.7 717.3L399.9 712.2L393.0 705.4ZM416.9 727.6L423.7 729.3L428.8 737.8L427.1 744.6L422.0 751.4L416.9 754.9L413.5 751.4L415.2 741.2ZM399.9 761.7L410.1 758.3L420.3 756.6L430.5 758.3L440.8 761.7L449.3 765.1L447.6 770.2L437.4 771.9L428.8 773.6L420.3 775.3L411.8 773.6L403.3 768.5ZM420.3 775.3L428.8 773.6L435.7 782.1L440.8 790.7L444.2 799.2L447.6 809.4L447.6 816.2L440.8 819.7L430.5 824.8L420.3 828.2L410.1 831.6L399.9 829.9L393.0 821.4L391.3 812.8L396.4 806.0L406.7 802.6L415.2 799.2L420.3 792.4L422.0 783.8ZM440.8 841.8L451.0 838.4L462.9 836.7L471.5 836.7L468.1 841.8L454.4 843.5L444.2 843.5ZM341.9 846.9L352.1 845.2L369.2 843.5L376.0 845.2L374.3 852.1L341.9 852.1ZM451.0 672.1L481.7 672.1L481.7 693.5L471.5 691.8L464.7 690.1L459.5 686.6L454.4 681.5ZM478.1 672.1L550.6 672.1L550.6 683.2L543.8 686.6L530.2 684.9L513.1 686.6L496.1 686.6L478.1 688.3ZM496.1 698.6L504.6 695.2L516.5 695.2L526.7 696.9L533.6 702.0L538.7 707.1L543.8 707.1L548.9 712.2L547.2 720.7L550.6 729.3L550.6 741.2L547.2 749.7L543.8 754.9L540.4 763.4L535.3 768.5L530.2 771.9L525.0 770.2L518.2 768.5L509.7 765.1L504.6 758.3L502.9 746.3L501.2 736.1L497.8 724.2L496.1 712.2ZM547.2 744.6L554.0 741.2L559.1 744.6L564.3 753.1L566.0 761.7L562.6 768.5L557.4 771.9L550.6 773.6L547.2 768.5L545.5 758.3ZM557.4 698.6L564.3 690.1L571.1 683.2L574.5 672.1L642.7 672.1L642.7 744.6L632.5 746.3L625.7 744.6L618.8 741.2L613.7 736.1L608.6 731.0L601.8 727.6L595.0 725.9L588.1 724.2L581.3 724.2L574.5 724.2L567.7 724.2L560.9 722.5L557.4 715.6L555.7 707.1ZM608.6 765.1L615.4 761.7L625.7 760.0L642.7 760.0L642.7 785.5L632.5 787.3L625.7 782.1L620.5 775.3L613.7 770.2ZM629.1 802.6L635.9 799.2L642.7 799.2L642.7 826.5L634.2 823.1L629.1 817.9L625.7 812.8ZM574.5 852.1L577.9 840.1L584.7 833.3L591.5 826.5L595.0 821.4L601.8 819.7L608.6 823.1L612.0 829.9L613.7 836.7L615.4 843.5L618.8 852.1ZM581.3 744.6L584.7 742.9L588.1 746.3L584.7 748.9L581.3 748.0ZM480.7 794.1L485.8 794.1L487.5 799.2L482.4 800.0ZM490.9 795.8L497.8 790.7L504.6 792.4L508.0 797.5L504.6 802.6L499.5 806.0L492.6 804.3L489.2 799.2ZM502.9 812.8L509.7 811.1L514.8 814.5L516.5 821.4L511.4 824.8L504.6 821.4ZM521.6 795.8L530.2 794.1L537.0 795.8L535.3 800.9L530.2 804.3L526.7 807.7L523.3 802.6ZM526.7 852.1L543.8 848.6L564.3 848.6L567.7 852.1ZM640.1 679.8L647.8 678.1L654.6 683.2L658.1 690.1L656.3 698.6L658.1 707.1L654.6 717.3L651.2 724.2L644.4 725.9L640.1 725.9ZM733.1 672.1L804.7 672.1L804.7 679.8L794.5 681.5L777.4 679.8L760.4 678.1L743.3 676.4ZM666.6 695.2L675.1 691.8L681.9 693.5L680.2 698.6L673.4 700.3L668.3 698.6ZM644.4 732.7L651.2 731.0L654.6 737.8L652.9 744.6L649.5 749.7L646.1 746.3L644.4 739.5ZM687.0 736.1L692.2 734.4L699.0 736.1L702.4 741.2L697.3 744.6L690.5 742.9ZM770.6 707.1L777.4 704.5L784.2 705.4L785.1 709.7L779.1 711.4L772.3 710.5ZM757.0 744.6L763.8 741.2L774.0 740.4L782.5 748.0L787.7 756.6L784.2 761.7L777.4 761.7L770.6 758.3L763.8 754.9L758.7 749.7ZM774.0 727.6L784.2 722.5L794.5 720.7L804.7 720.7L804.7 768.5L794.5 768.5L791.1 761.7L789.4 751.4L784.2 741.2L777.4 734.4ZM729.7 756.6L736.5 754.9L743.3 758.3L750.1 761.7L753.5 768.5L757.0 775.3L763.8 778.7L765.5 785.5L760.4 789.0L753.5 787.3L750.1 782.1L743.3 778.7L736.5 775.3L731.4 768.5ZM675.1 761.7L680.2 760.0L681.9 765.1L678.5 768.5ZM640.1 763.4L647.8 761.7L654.6 765.1L658.1 773.6L659.8 782.1L664.9 789.0L675.1 792.4L685.3 794.1L693.9 792.4L702.4 790.7L709.2 789.0L717.7 790.7L722.9 795.8L726.3 802.6L728.0 809.4L726.3 816.2L722.9 821.4L716.0 823.1L709.2 819.7L702.4 816.2L695.6 812.8L688.7 809.4L681.9 809.4L675.1 812.8L668.3 814.5L661.5 816.2L654.6 819.7L647.8 823.1L640.1 824.8ZM683.6 852.1L692.2 843.5L702.4 836.7L712.6 831.6L722.9 828.2L729.7 829.9L736.5 833.3L746.7 833.3L757.0 831.6L760.4 836.7L753.5 841.8L746.7 845.2L739.9 848.6L736.5 852.1ZM767.2 806.0L774.0 804.3L780.8 807.7L785.9 812.8L791.1 817.9L794.5 823.1L787.7 826.5L780.8 823.1L775.7 817.9L770.6 812.8ZM791.1 789.0L797.9 787.3L804.7 785.5L804.7 802.6L797.9 799.2L792.8 794.1Z"/><path fill="#ffffff" d="M287.3 510.3L297.5 509.5L302.7 513.8L295.8 517.2L289.0 515.5ZM381.1 622.9L386.2 621.2L389.6 626.3L386.2 629.7L381.9 628.0ZM381.1 645.1L389.6 643.4L396.4 646.8L396.4 651.9L389.6 655.3L382.8 653.6ZM352.1 648.5L358.9 646.8L362.3 653.6L357.2 658.7L352.1 657.0ZM416.9 663.8L427.1 662.1L434.0 665.5L430.5 670.6L420.3 670.6ZM610.3 617.8L618.8 616.9L622.2 622.9L617.1 629.7L611.2 628.0ZM588.1 648.5L596.7 645.1L601.8 648.5L605.2 655.3L598.4 658.7L591.5 657.0ZM680.2 501.8L692.2 501.8L712.6 502.7L709.2 505.2L692.2 506.1L681.9 505.2ZM155.1 672.1L251.5 672.1L251.5 679.8L248.1 684.9L232.7 688.3L220.8 689.2L214.0 686.6L210.6 683.2L207.2 686.6L200.3 688.3L190.1 686.6L173.1 685.8L155.1 687.5ZM155.1 696.9L173.1 695.2L190.1 693.5L203.7 691.8L210.6 693.5L212.3 698.6L214.0 707.1L217.4 713.9L215.7 720.7L207.2 722.5L190.1 723.3L173.1 724.2L155.1 724.2ZM266.8 739.5L275.4 737.8L285.6 739.5L295.8 742.9L306.1 744.6L319.7 746.3L319.7 770.2L309.5 768.5L299.2 765.1L292.4 761.7L285.6 756.6L278.8 753.1L273.7 748.0L268.5 744.6ZM220.8 760.0L227.6 758.3L241.3 759.1L254.9 761.7L266.8 763.4L278.8 766.8L289.0 770.2L294.1 775.3L292.4 783.8L290.7 792.4L294.1 800.9L292.4 807.7L285.6 807.7L275.4 804.3L265.1 802.6L254.9 800.9L244.7 802.6L237.9 806.0L232.7 809.4L227.6 802.6L224.2 792.4L222.5 782.1L220.8 771.9ZM155.1 792.4L173.1 792.4L190.1 790.7L207.2 789.0L224.2 789.0L231.0 802.6L231.0 817.9L237.9 835.0L249.8 843.5L258.3 852.1L155.1 852.1ZM292.4 835.0L300.9 831.6L309.5 826.5L319.7 824.8L319.7 852.1L289.0 852.1ZM316.3 744.6L324.8 746.3L328.2 753.1L323.1 756.6L316.3 754.9ZM331.6 768.5L340.2 766.8L345.3 775.3L341.9 782.1L333.3 778.7ZM343.6 724.2L352.1 722.5L357.2 727.6L355.5 734.4L348.7 736.1L345.3 731.0ZM364.0 722.5L369.2 724.2L370.9 729.3L367.5 732.7L364.0 729.3ZM403.3 719.0L408.4 717.3L411.8 722.5L408.4 727.6L404.1 725.9ZM528.5 736.1L533.6 734.4L535.3 741.2L531.9 744.6L528.5 741.2ZM526.7 754.9L531.9 753.1L535.3 758.3L533.6 765.1L528.5 765.1L526.7 760.0ZM581.3 708.0L586.4 707.1L588.1 710.5L583.0 712.2ZM625.7 732.7L630.8 731.0L632.5 736.1L627.4 737.8Z"/><path fill="#93dffb" d="M185.0 528.3L193.5 526.5L205.5 524.8L220.8 525.7L232.7 528.3L239.6 530.8L237.9 534.2L227.6 535.1L214.0 535.1L200.3 532.5L190.1 530.8ZM162.8 573.4L169.6 570.9L178.2 570.0L185.0 570.9L185.8 575.1L179.9 577.7L171.3 578.6L164.5 576.9ZM196.9 645.1L203.7 641.7L210.6 636.5L214.0 629.7L215.7 624.6L220.8 622.9L224.2 628.0L224.2 634.8L219.1 639.9L212.3 643.4L205.5 646.8L198.6 649.3ZM379.4 520.6L386.2 518.9L399.9 516.3L413.5 516.3L428.8 517.2L440.8 518.0L442.5 522.3L437.4 529.1L434.0 534.2L430.5 535.9L428.8 529.1L420.3 525.7L410.1 524.0L399.9 523.1L389.6 522.3L381.1 523.1ZM444.2 544.5L451.0 541.0L456.1 540.2L454.4 543.6L447.6 546.2ZM474.9 563.2L481.7 561.5L481.7 575.1L476.6 573.4ZM329.9 592.2L336.8 590.5L343.6 589.6L350.4 591.3L352.1 597.3L350.4 604.1L347.0 607.5L341.9 611.0L338.5 605.8L333.3 600.7L329.9 597.3ZM358.9 605.8L365.7 604.1L369.2 607.5L364.0 612.7L360.6 614.4ZM425.4 631.4L430.5 626.3L437.4 624.6L442.5 626.3L440.8 633.1L435.7 638.2L428.8 639.9L425.4 636.5ZM537.0 527.4L547.2 526.5L557.4 527.4L554.0 530.0L543.8 530.8ZM579.6 551.3L586.4 547.9L595.0 546.2L601.8 549.6L605.2 556.4L605.2 563.2L601.8 568.3L596.7 571.7L591.5 573.4L588.1 578.6L583.0 580.3L581.3 575.1L584.7 568.3L583.0 563.2L581.3 558.1ZM589.8 587.1L595.0 584.5L598.4 586.2L596.7 589.6L591.5 590.5ZM478.1 561.5L484.1 563.2L485.8 571.7L482.4 578.6L478.1 579.4ZM659.8 529.1L670.0 520.6L680.2 519.7L692.2 522.3L705.8 524.8L714.3 529.1L712.6 534.2L705.8 535.9L695.6 537.6L685.3 539.3L675.1 540.2L666.6 537.6L661.5 534.2ZM693.0 583.7L699.0 582.0L704.1 584.5L702.4 588.8L695.6 589.6ZM714.3 588.8L719.4 587.9L724.6 590.5L726.3 595.6L722.9 599.0L717.7 597.3L714.3 593.9ZM739.9 616.9L745.0 616.1L745.9 619.5L740.8 620.3ZM758.7 646.8L763.8 645.9L762.9 651.9L758.7 652.7ZM767.2 645.1L775.7 642.5L784.2 643.4L787.7 646.8L782.5 650.2L774.0 650.2L768.0 649.3ZM681.9 663.8L688.7 660.4L695.6 661.3L697.3 667.2L690.5 670.6L683.6 670.6ZM239.6 771.9L246.4 770.2L254.9 771.9L265.1 775.3L272.0 780.4L277.1 787.3L277.1 795.8L272.0 799.2L261.7 797.5L254.9 792.4L249.8 785.5L243.0 780.4L239.6 775.3ZM207.2 833.3L210.6 832.4L211.4 835.0L208.0 835.9ZM164.5 841.8L167.9 841.0L168.8 843.5L165.4 844.4ZM355.5 768.5L362.3 761.7L369.2 758.3L376.0 758.3L381.1 765.1L386.2 771.9L389.6 778.7L393.0 783.8L399.9 785.5L406.7 789.0L406.7 794.1L398.1 795.8L389.6 799.2L382.8 797.5L376.0 795.8L369.2 799.2L364.0 806.0L358.9 809.4L355.5 806.0L353.8 795.8L353.8 783.8ZM451.0 778.7L456.1 779.6L462.9 783.0L461.2 785.5L454.4 783.8ZM478.3 713.9L481.7 712.2L481.7 724.2L478.3 722.5ZM449.3 686.6L452.7 685.8L453.6 690.1L450.2 690.9ZM581.3 775.3L588.1 771.9L595.0 775.3L601.8 782.1L608.6 787.3L608.6 792.4L601.8 795.8L595.0 794.1L588.1 790.7L583.0 785.5ZM555.7 807.7L559.1 802.6L562.6 800.9L564.3 804.3L560.9 809.4ZM485.8 707.1L490.9 706.3L492.6 708.8L487.5 709.7ZM487.5 724.2L492.6 722.5L494.3 725.9L489.2 727.6ZM478.1 715.6L482.4 715.6L482.4 720.7L478.1 720.7ZM528.5 690.1L535.3 686.6L540.4 688.3L538.7 693.5L531.9 693.5ZM487.5 843.5L496.1 836.7L506.3 833.3L519.9 831.6L533.6 832.4L540.4 835.0L535.3 840.1L526.7 843.5L516.5 848.6L496.1 852.1L487.5 852.1ZM504.6 775.3L509.7 773.6L513.1 777.0L511.4 782.1L506.3 782.1ZM687.0 771.9L692.2 769.3L699.0 767.6L705.8 767.6L707.5 771.9L702.4 775.3L695.6 777.0L690.5 780.4L687.0 778.7ZM654.6 833.3L661.5 829.9L668.3 831.6L670.0 836.7L663.2 838.4L656.3 837.6ZM670.0 823.1L675.1 821.4L678.5 824.8L675.1 828.2L670.8 826.5ZM709.2 679.8L716.0 679.0L726.3 681.5L736.5 684.9L745.0 688.3L746.7 691.8L739.9 692.6L729.7 690.1L719.4 690.1L712.6 688.3ZM722.9 703.7L729.7 703.7L739.9 707.1L751.8 708.8L760.4 712.2L767.2 715.6L772.3 719.0L767.2 720.7L760.4 718.2L750.1 715.6L739.9 713.9L729.7 709.7L724.6 707.1ZM746.7 817.9L750.1 817.1L751.0 820.5L747.6 821.4Z"/><path fill="#fd5a02" d="M155.1 534.2L161.1 535.9L162.8 538.5L155.1 540.2ZM256.6 520.6L265.1 518.9L275.4 518.9L282.2 520.6L285.6 524.0L275.4 525.7L265.1 524.8L258.3 524.8ZM231.0 554.7L239.6 553.0L246.4 554.7L251.5 559.8L256.6 563.2L265.1 566.6L275.4 568.3L282.2 570.0L285.6 575.1L283.9 582.0L278.8 585.4L275.4 590.5L272.0 593.9L265.1 595.6L258.3 592.2L251.5 587.1L244.7 582.0L239.6 575.1L234.4 566.6L232.7 559.8ZM275.4 658.7L285.6 658.7L292.4 665.5L295.8 674.1L278.8 674.1ZM309.5 648.5L314.6 646.8L319.7 648.5L319.7 658.7L312.9 657.0ZM155.1 592.2L162.8 593.9L167.9 597.3L166.2 602.4L161.1 600.7L155.1 599.0ZM164.5 617.8L167.9 616.1L169.6 619.5L166.2 622.0ZM434.0 500.1L445.9 499.3L481.7 498.4L481.7 505.2L462.9 506.1L445.9 504.4L435.7 502.7ZM323.1 638.2L328.2 638.2L329.9 643.4L326.5 645.1L324.0 643.4ZM367.5 665.5L372.6 663.8L374.3 668.9L369.2 670.6ZM471.5 653.6L481.7 651.9L481.7 674.1L473.2 674.1L471.5 662.1ZM478.1 497.6L596.7 497.6L596.7 501.8L564.3 502.7L530.2 503.5L496.1 504.4L478.1 503.5ZM560.9 624.6L567.7 621.2L574.5 617.8L581.3 612.7L589.8 609.3L598.4 607.5L605.2 605.8L612.0 607.5L608.6 614.4L605.2 621.2L601.8 628.0L598.4 634.8L595.0 641.7L588.1 645.1L581.3 645.1L574.5 641.7L567.7 636.5L562.6 631.4ZM618.8 612.7L627.4 611.0L635.9 612.7L642.7 614.4L642.7 639.9L635.9 641.7L629.1 638.2L623.9 631.4L620.5 624.6ZM564.3 648.5L574.5 645.1L584.7 648.5L589.8 655.3L588.1 665.5L581.3 674.1L564.3 674.1L560.9 662.1ZM478.1 648.5L489.2 650.2L496.1 648.5L502.9 651.9L506.3 658.7L513.1 662.1L519.9 665.5L526.7 667.2L530.2 674.1L478.1 674.1ZM598.4 658.7L608.6 657.0L615.4 662.1L615.4 674.1L598.4 674.1ZM768.9 511.2L780.8 509.5L794.5 508.6L804.7 508.6L804.7 513.8L791.1 512.9L777.4 513.8L770.6 512.9ZM777.4 532.5L787.7 530.8L797.9 531.7L804.7 533.4L804.7 539.3L794.5 539.3L784.2 537.6L779.1 535.9ZM736.5 571.7L746.7 570.0L757.0 570.0L760.4 573.4L757.0 578.6L748.4 578.6L739.9 576.9ZM640.1 617.8L646.1 619.5L649.5 626.3L647.8 631.4L640.1 633.1ZM652.9 629.7L658.1 631.4L659.8 638.2L656.3 639.9L652.9 636.5ZM770.6 600.7L777.4 597.3L785.9 595.6L794.5 593.9L804.7 593.9L804.7 617.8L794.5 619.5L785.9 617.8L777.4 616.1L772.3 611.0ZM260.0 678.1L272.0 674.7L285.6 672.1L319.7 672.1L319.7 695.2L309.5 693.5L300.9 691.8L292.4 691.8L282.2 690.1L272.0 690.1L263.4 686.6ZM193.5 731.0L203.7 729.3L212.3 731.0L210.6 733.5L200.3 734.4L194.4 733.5ZM155.1 732.7L162.8 731.8L166.2 736.1L161.1 737.8L155.1 737.8ZM169.6 746.3L178.2 742.9L190.1 742.9L203.7 744.6L210.6 748.0L217.4 746.3L227.6 748.0L237.9 751.4L248.1 754.9L249.8 757.4L237.9 757.4L227.6 754.9L217.4 753.1L214.0 758.3L215.7 765.1L215.7 775.3L208.9 778.7L203.7 775.3L195.2 773.6L186.7 768.5L181.6 761.7L174.8 754.9L171.3 751.4ZM244.7 817.9L251.5 814.5L261.7 814.5L268.5 817.9L269.4 824.8L261.7 828.2L253.2 827.3L246.4 824.8ZM302.7 794.1L306.1 792.4L307.8 795.8L304.4 797.5ZM316.3 678.1L324.8 679.8L331.6 686.6L335.1 695.2L333.3 702.0L328.2 707.1L321.4 705.4L316.3 702.0ZM336.8 707.1L341.9 695.2L345.3 684.9L353.8 681.5L367.5 683.2L374.3 691.8L382.8 700.3L386.2 710.5L393.0 717.3L403.3 720.7L408.4 727.6L406.7 737.8L405.0 746.3L398.1 748.0L389.6 746.3L381.1 742.9L376.0 736.1L372.6 729.3L367.5 724.2L362.3 724.2L357.2 722.5L352.1 724.2L345.3 720.7L340.2 715.6ZM393.0 700.3L399.9 698.6L406.7 702.0L410.1 707.1L405.0 710.5L398.1 708.8L393.9 705.4ZM413.5 760.0L420.3 759.1L427.1 761.7L428.8 765.9L422.0 766.8L415.2 765.1ZM399.9 807.7L406.7 806.9L410.1 811.1L405.0 813.7L400.7 812.0ZM457.8 686.6L464.7 688.3L466.4 693.5L462.9 695.2L459.5 691.8ZM478.1 676.4L496.1 674.7L513.1 672.1L530.2 672.1L533.6 679.8L521.6 683.2L504.6 683.2L487.5 683.2L478.1 683.2ZM543.8 672.1L554.0 672.1L555.7 681.5L552.3 688.3L547.2 690.1L543.8 683.2ZM497.8 698.6L504.6 696.9L513.1 696.9L523.3 696.9L530.2 702.0L533.6 710.5L533.6 717.3L537.0 724.2L540.4 732.7L545.5 734.4L548.9 739.5L547.2 746.3L542.1 753.1L537.0 756.6L533.6 754.9L530.2 753.1L525.0 751.4L521.6 754.9L519.9 763.4L513.1 763.4L508.0 758.3L504.6 749.7L502.9 739.5L501.2 727.6L499.5 715.6ZM567.7 700.3L574.5 690.1L581.3 681.5L589.8 672.1L642.7 672.1L642.7 724.2L632.5 727.6L623.9 725.9L615.4 722.5L606.9 719.0L601.8 719.0L595.0 717.3L588.1 713.9L581.3 712.2L574.5 708.8L569.4 705.4ZM640.1 686.6L647.8 688.3L652.9 693.5L654.6 702.0L651.2 710.5L647.8 717.3L640.1 719.0ZM680.2 698.6L687.0 695.2L690.5 700.3L688.7 707.1L683.6 710.5L680.2 707.1ZM728.0 720.7L733.1 719.9L736.5 724.2L733.1 727.6L728.8 725.0ZM777.4 731.0L784.2 730.1L789.4 732.7L787.7 736.1L780.8 736.1ZM640.1 773.6L646.1 773.6L651.2 778.7L652.9 785.5L649.5 789.0L640.1 789.0ZM646.1 802.6L652.9 795.8L659.8 794.1L663.2 799.2L661.5 806.0L656.3 809.4L649.5 809.4ZM695.6 802.6L702.4 797.5L709.2 794.1L716.0 795.8L719.4 802.6L717.7 811.1L712.6 814.5L705.8 812.8L699.0 809.4ZM729.7 835.0L736.5 834.1L741.6 836.7L739.9 841.0L733.1 841.8ZM780.8 812.8L784.2 812.0L785.1 816.2L781.7 817.1ZM273.2 650.5L284.2 656.0L295.2 665.1L311.7 670.6L330.0 676.1L330.0 701.8L320.8 699.9L311.7 694.4L302.5 694.4L284.2 692.6L269.6 694.4L262.2 687.1L260.4 679.8L269.6 674.3L276.9 667.0Z"/><path fill="#5cb8fb" d="M687.0 526.5L692.2 525.7L695.6 529.1L692.2 531.7L687.9 530.8ZM384.5 789.0L389.6 787.3L393.0 790.7L391.3 795.8L386.2 797.5L382.8 794.1ZM364.0 766.8L369.2 765.1L370.9 770.2L367.5 771.9ZM496.1 841.8L506.3 836.7L518.2 836.7L519.9 841.8L509.7 845.2L499.5 848.6ZM739.9 707.1L748.4 708.0L757.0 710.5L763.8 714.8L768.9 718.2L763.8 719.0L757.0 716.5L748.4 713.9L741.6 711.4Z"/><path fill="#e3200b" d="M236.1 566.6L241.3 566.6L248.1 570.0L254.9 571.7L263.4 575.1L270.3 576.9L272.0 582.0L270.3 587.1L265.1 588.8L258.3 587.1L251.5 583.7L246.4 580.3L241.3 575.1ZM623.9 624.6L632.5 622.9L639.3 624.6L642.7 629.7L635.9 631.4L629.1 631.4ZM567.7 658.7L574.5 653.6L581.3 651.9L584.7 655.3L581.3 662.1L574.5 665.5L569.4 663.8ZM777.4 604.1L782.5 602.4L787.7 604.1L785.9 611.0L780.8 614.4L777.4 611.0ZM283.9 684.9L292.4 683.2L302.7 681.5L306.1 684.9L300.9 690.1L292.4 690.9L285.6 689.2ZM176.5 748.0L183.3 746.3L193.5 748.0L200.3 749.7L202.0 758.3L198.6 761.7L190.1 761.7L183.3 758.3L178.2 753.1ZM343.6 686.6L352.1 683.2L365.7 684.9L372.6 691.8L377.7 698.6L379.4 707.1L377.7 715.6L372.6 719.0L367.5 715.6L362.3 710.5L357.2 707.1L352.1 705.4L347.0 700.3L343.6 693.5ZM377.7 727.6L384.5 724.2L393.0 724.2L399.9 727.6L403.3 734.4L401.6 742.9L394.7 746.3L386.2 744.6L381.1 739.5L377.7 734.4ZM518.2 698.6L526.7 698.6L530.2 705.4L531.9 713.9L528.5 720.7L523.3 724.2L518.2 722.5L516.5 715.6L516.5 707.1ZM509.7 724.2L514.8 725.9L516.5 734.4L513.1 737.8L509.7 732.7ZM581.3 683.2L591.5 679.8L598.4 683.2L601.8 690.1L598.4 696.9L591.5 698.6L584.7 696.9L581.3 690.1ZM615.4 712.2L625.7 713.9L632.5 715.6L635.9 719.0L632.5 724.2L623.9 724.2L617.1 720.7ZM291.5 687.1L302.5 683.4L306.2 687.1L300.7 690.8L293.4 691.7Z"/><path fill="#b00404" d="M248.1 575.1L251.5 574.3L254.9 576.9L253.2 580.3L249.8 579.4ZM353.8 686.6L360.6 684.9L367.5 690.1L369.2 696.9L365.7 703.7L360.6 703.7L357.2 698.6L353.8 691.8Z"/><clipPath id="pc1_0"><rect x="318" y="640" width="162" height="66"/></clipPath><g clip-path="url(#pc1_0)"><rect x="318" y="640" width="162" height="66" fill="#fff"/><path fill="#fdaa1c" d="M317.1 639.1L382.8 639.1L382.8 645.1L389.6 650.2L389.6 658.8L386.2 665.6L381.1 670.7L369.2 674.1L358.9 675.8L348.7 676.7L341.9 674.1L336.8 669.0L329.9 665.6L324.8 665.6L317.1 663.9ZM389.6 658.8L398.1 655.3L410.1 651.9L423.7 648.5L437.4 648.5L445.9 650.2L447.6 660.5L444.2 669.0L437.4 672.4L428.8 674.1L423.7 679.2L420.3 684.3L413.5 687.7L406.7 691.2L399.9 694.6L393.0 696.3L391.3 689.5L396.4 682.6L403.3 677.5L410.1 672.4L413.5 667.3L403.3 665.6L394.7 663.9ZM391.3 696.3L398.1 694.6L406.7 692.9L413.5 691.2L423.7 696.3L437.4 701.4L447.6 707.4L391.3 707.4ZM447.6 639.1L481.7 639.1L481.7 682.6L471.5 687.7L462.9 689.5L454.4 682.6L449.3 674.1L447.6 657.1ZM317.1 667.3L324.8 669.0L328.2 674.1L324.8 679.2L317.1 679.2Z"/><path fill="#ffffff" d="M352.1 646.8L358.9 646.0L360.6 655.3L353.8 657.1ZM367.5 648.5L376.0 647.7L377.7 653.6L369.2 655.3ZM328.2 658.8L335.1 657.1L338.5 665.6L331.6 669.0L326.5 665.6Z"/><path fill="#fd5a02" d="M471.5 657.1L481.7 653.6L481.7 674.1L473.2 670.7ZM317.1 679.2L324.8 677.5L335.1 682.6L345.3 679.2L357.2 679.2L369.2 680.9L379.4 687.7L389.6 696.3L391.3 707.4L317.1 707.4Z"/><path fill="#ffffff" d="M406.7 660.5L415.2 658.8L420.3 663.9L413.5 667.3L408.4 665.6Z"/><path fill="#e3200b" d="M457.8 686.0L462.9 687.7L466.4 691.2L462.9 692.9ZM341.9 686.0L352.1 682.6L365.7 684.3L374.3 691.2L377.7 707.4L343.6 707.4L340.2 696.3Z"/><path fill="#b00404" d="M350.4 689.5L358.9 687.7L365.7 694.6L367.5 707.4L352.1 707.4L348.7 698.0Z"/></g><clipPath id="pc1_1"><rect x="479" y="640" width="162" height="66"/></clipPath><g clip-path="url(#pc1_1)"><rect x="479" y="640" width="162" height="66" fill="#fff"/><path fill="#fdaa1c" d="M478.1 639.1L642.7 639.1L642.7 707.4L478.1 707.4Z"/><path fill="#ffffff" d="M478.1 639.1L523.3 639.1L519.9 643.4L509.7 646.8L496.1 648.5L485.8 650.2L478.1 651.9ZM550.6 639.1L564.3 639.1L567.7 646.8L564.3 651.9L557.4 655.3L552.3 650.2ZM478.1 686.0L489.2 684.3L499.5 682.6L513.1 680.9L526.7 679.2L537.0 674.1L543.8 675.8L550.6 680.9L555.7 686.0L560.9 692.9L564.3 701.4L564.3 707.4L513.1 707.4L504.6 698.0L496.1 691.2L478.1 691.2ZM588.1 650.2L598.4 648.5L603.5 653.6L601.8 658.8L595.0 657.1ZM576.2 674.1L581.3 672.4L584.7 677.5L581.3 680.9L577.1 680.1ZM625.7 669.0L632.5 665.6L642.7 663.9L642.7 679.2L632.5 677.5L627.4 674.1Z"/><path fill="#93dffb" d="M530.2 689.5L537.0 686.0L540.4 691.2L535.3 694.6ZM478.1 704.8L485.8 704.8L485.8 707.4L478.1 707.4Z"/><path fill="#fd5a02" d="M478.1 653.6L489.2 650.2L499.5 648.5L509.7 650.2L513.1 657.1L519.9 660.5L526.7 657.1L535.3 658.8L538.7 665.6L542.1 674.1L537.0 677.5L530.2 679.2L523.3 677.5L516.5 679.2L509.7 680.9L502.9 677.5L496.1 679.2L489.2 680.9L478.1 679.2ZM564.3 653.6L574.5 650.2L584.7 651.9L581.3 662.2L574.5 667.3L567.7 667.3L562.6 660.5ZM574.5 662.2L584.7 658.8L595.0 657.1L605.2 658.8L612.0 662.2L618.8 669.0L623.9 677.5L632.5 680.9L642.7 680.9L642.7 707.4L564.3 707.4L564.3 696.3L569.4 687.7L576.2 682.6L581.3 677.5L579.6 670.7ZM608.6 639.1L618.8 639.1L620.5 646.8L615.4 650.2L610.3 646.8ZM623.9 639.1L642.7 639.1L642.7 650.2L632.5 650.2L625.7 646.8ZM496.1 698.0L504.6 694.6L516.5 696.3L526.7 699.7L530.2 707.4L496.1 707.4Z"/><path fill="#e3200b" d="M569.4 658.8L576.2 655.3L581.3 657.1L577.9 663.9L571.1 665.6ZM581.3 682.6L589.8 679.2L598.4 680.9L601.8 687.7L598.4 694.6L591.5 698.0L584.7 696.3L581.3 691.2ZM598.4 665.6L603.5 663.9L606.9 670.7L605.2 675.8L600.1 674.1ZM629.1 687.7L635.9 686.0L642.7 687.7L642.7 698.0L632.5 698.0Z"/></g><use href="#coast" transform="translate(0,494.7)"/></g><rect x="156.5" y="494.7" width="645.8" height="355.7" fill="none" stroke="#000" stroke-width="2.2"/><path d="M317.9 494.7v7M317.9 850.4v-7M479.4 494.7v7M479.4 850.4v-7M640.8 494.7v7M640.8 850.4v-7M156.5 565.8h7M802.3 565.8h-7M156.5 637.0h7M802.3 637.0h-7M156.5 708.1h7M802.3 708.1h-7M156.5 779.3h7M802.3 779.3h-7" stroke="#000" stroke-width="1.8" fill="none"/><text x="138.5" y="508.2" text-anchor="end" font-size="39.2" fill="#262626">90N</text><text x="138.5" y="579.3" text-anchor="end" font-size="39.2" fill="#262626">60N</text><text x="138.5" y="650.5" text-anchor="end" font-size="39.2" fill="#262626">30N</text><text x="138.5" y="721.6" text-anchor="end" font-size="39.2" fill="#262626">0</text><text x="138.5" y="792.8" text-anchor="end" font-size="39.2" fill="#262626">30S</text><text x="138.5" y="863.9" text-anchor="end" font-size="39.2" fill="#262626">60S</text><text transform="translate(47.9,674.1) rotate(-90)" text-anchor="middle" font-size="44.4" font-weight="bold" fill="#262626">Weeks 3-4</text><text x="177.2" y="819.9" font-size="44" font-weight="bold" fill="#000">(b)</text><g clip-path="url(#cp2)"><path fill="#fee275" d="M249.8 1078.7L258.3 1082.1L261.7 1088.9L254.9 1090.6L249.8 1085.5Z"/><path fill="#c8f8fd" d="M289.0 938.0L319.7 937.1L319.7 939.7L290.7 939.7Z"/><path fill="#fdaa1c" d="M155.1 940.5L166.2 940.5L176.5 943.1L188.4 943.9L191.8 946.5L183.3 949.1L173.1 950.8L162.8 951.6L155.1 950.8ZM155.1 961.0L162.8 964.4L169.6 969.5L179.9 972.9L190.1 974.6L193.5 978.0L200.3 981.5L207.2 983.2L212.3 990.0L224.2 991.7L234.4 990.8L244.7 991.7L251.5 996.8L254.9 1003.6L258.3 1007.0L266.8 1007.0L275.4 1007.0L285.6 1010.4L292.4 1017.3L297.5 1024.1L302.7 1030.9L306.1 1037.7L306.1 1044.5L299.2 1044.5L292.4 1041.1L285.6 1037.7L275.4 1037.7L265.1 1037.7L258.3 1036.0L251.5 1030.9L244.7 1024.1L237.9 1019.0L231.0 1017.3L224.2 1019.0L217.4 1017.3L207.2 1013.9L200.3 1010.4L193.5 1007.0L186.7 1003.6L179.9 1000.2L173.1 998.5L166.2 998.5L155.1 998.5ZM254.9 957.6L265.1 954.2L275.4 954.2L285.6 955.9L289.0 960.1L282.2 962.7L272.0 964.4L261.7 964.4L256.6 962.7ZM309.5 947.3L319.7 947.3L319.7 954.2L311.2 954.2ZM155.1 1030.9L166.2 1030.9L176.5 1034.3L185.0 1039.4L190.1 1044.5L198.6 1048.0L207.2 1049.7L212.3 1053.1L210.6 1058.2L200.3 1061.6L190.1 1065.0L179.9 1068.4L173.1 1068.4L167.9 1063.3L161.1 1061.6L155.1 1061.6ZM224.2 1085.5L231.0 1075.2L237.9 1071.8L243.0 1073.5L244.7 1080.4L241.3 1087.2L234.4 1088.9L227.6 1088.9ZM258.3 1092.3L265.1 1085.5L272.0 1082.1L275.4 1082.1L282.2 1088.9L289.0 1095.7L295.8 1102.5L300.9 1111.1L254.9 1111.1ZM307.8 1082.1L319.7 1078.7L319.7 1100.8L309.5 1099.1L306.1 1092.3ZM155.1 1095.7L162.8 1094.0L166.2 1099.1L161.1 1102.5L155.1 1102.5ZM173.1 1099.1L178.2 1095.7L181.6 1099.1L176.5 1104.2ZM202.0 1034.3L207.2 1032.6L210.6 1036.0L207.2 1041.1L203.7 1039.4ZM317.1 954.2L328.2 952.5L338.5 955.9L348.7 959.3L358.9 962.7L369.2 964.4L376.0 966.1L381.1 972.9L381.1 983.2L381.1 995.1L374.3 996.8L365.7 995.1L358.9 991.7L352.1 990.0L343.6 991.7L335.1 990.0L326.5 986.6L317.1 983.2ZM377.7 961.0L386.2 957.6L396.4 956.7L405.0 959.3L406.7 964.4L403.3 969.5L399.9 974.6L398.1 978.0L393.0 976.3L386.2 972.9L381.1 967.8ZM410.1 979.7L416.9 978.0L423.7 977.2L428.8 978.0L427.1 981.5L420.3 983.2L413.5 983.2ZM457.8 942.2L466.4 940.5L481.7 940.5L481.7 979.7L471.5 978.0L464.7 979.7L457.8 976.3L451.0 974.6L447.6 972.9L451.0 966.1L454.4 959.3L457.8 952.5ZM427.1 1000.2L434.0 998.5L440.8 998.5L447.6 1001.9L454.4 1005.3L462.9 1007.0L464.7 1012.1L459.5 1017.3L452.7 1020.7L445.9 1019.0L440.8 1015.6L437.4 1020.7L434.0 1022.4L430.5 1017.3L427.1 1010.4ZM444.2 1049.7L449.3 1046.3L454.4 1049.7L452.7 1053.1L447.6 1053.1ZM348.7 1075.2L355.5 1068.4L362.3 1058.2L369.2 1051.4L379.4 1048.0L389.6 1046.3L398.1 1046.3L401.6 1051.4L398.1 1058.2L391.3 1061.6L386.2 1066.7L377.7 1071.8L369.2 1075.2L362.3 1078.7L355.5 1080.4ZM352.1 1085.5L360.6 1082.1L369.2 1080.4L379.4 1078.7L389.6 1076.9L396.4 1071.8L403.3 1070.1L410.1 1068.4L413.5 1073.5L420.3 1076.9L428.8 1078.7L437.4 1076.9L445.9 1075.2L452.7 1073.5L451.0 1085.5L449.3 1111.1L352.1 1111.1ZM317.1 1076.9L324.8 1078.7L328.2 1082.1L328.2 1088.9L324.8 1095.7L317.1 1095.7ZM317.1 1099.1L328.2 1099.1L335.1 1102.5L335.1 1111.1L317.1 1111.1ZM478.1 938.8L513.1 938.0L547.2 938.0L571.1 938.8L574.5 941.4L555.7 943.9L538.7 945.6L521.6 949.1L504.6 950.8L496.1 954.2L478.1 954.2ZM478.1 961.0L492.6 959.3L502.9 962.7L513.1 966.1L526.7 969.5L528.5 972.9L513.1 974.6L499.5 975.5L485.8 976.3L478.1 976.3ZM555.7 974.6L560.9 969.5L564.3 969.5L566.0 974.6L562.6 976.3ZM620.5 986.6L629.1 985.7L635.9 986.6L637.6 989.1L629.1 990.0L622.2 990.0ZM519.9 1020.7L525.0 1017.3L530.2 1020.7L531.9 1027.5L530.2 1034.3L526.7 1041.1L523.3 1041.1L519.9 1034.3ZM547.2 1024.1L550.6 1022.4L552.3 1026.6L548.9 1027.5ZM478.1 1044.5L485.8 1044.5L489.2 1051.4L485.8 1058.2L478.1 1058.2ZM504.6 1051.4L513.1 1049.7L521.6 1051.4L530.2 1056.5L537.0 1061.6L542.1 1068.4L533.6 1066.7L523.3 1065.0L513.1 1063.3L506.3 1058.2ZM478.1 1075.2L489.2 1073.5L499.5 1070.1L513.1 1068.4L526.7 1066.7L535.3 1066.7L543.8 1070.1L550.6 1076.9L559.1 1082.1L567.7 1085.5L574.5 1092.3L577.9 1102.5L577.9 1111.1L478.1 1111.1ZM562.6 1063.3L571.1 1058.2L577.9 1051.4L584.7 1046.3L595.0 1041.1L605.2 1037.7L615.4 1036.0L625.7 1032.6L632.5 1027.5L642.7 1024.1L642.7 1111.1L584.7 1111.1L581.3 1099.1L574.5 1088.9L567.7 1082.1L564.3 1075.2ZM721.1 949.1L733.1 945.6L746.7 942.2L760.4 940.5L777.4 939.7L804.7 939.7L804.7 983.2L794.5 984.9L785.9 981.5L777.4 976.3L770.6 972.9L763.8 969.5L757.0 967.8L751.8 966.1L760.4 962.7L767.2 959.3L760.4 955.9L750.1 954.2L736.5 952.5L726.3 951.6ZM774.0 986.6L780.8 983.2L791.1 981.5L804.7 981.5L804.7 991.7L794.5 995.1L785.9 996.8L777.4 996.8L774.0 991.7ZM652.9 991.7L661.5 988.3L675.1 986.6L685.3 986.6L692.2 988.3L690.5 995.1L683.6 1000.2L675.1 1001.9L666.6 1001.9L659.8 998.5L654.6 996.8ZM707.5 981.5L712.6 979.7L716.0 983.2L712.6 988.3L708.4 986.6ZM728.0 986.6L733.1 985.7L735.6 990.0L731.4 995.1L728.8 991.7ZM675.1 1005.3L683.6 1003.6L692.2 1005.3L699.0 1008.7L695.6 1012.1L687.0 1012.1L678.5 1010.4ZM640.1 1017.3L647.8 1015.6L656.3 1017.3L661.5 1022.4L663.2 1027.5L659.8 1032.6L654.6 1036.0L647.8 1036.0L640.1 1036.0ZM663.2 1034.3L671.7 1030.9L678.5 1032.6L685.3 1037.7L688.7 1044.5L685.3 1051.4L681.9 1059.9L680.2 1068.4L683.6 1075.2L681.9 1082.1L675.1 1085.5L668.3 1082.1L663.2 1076.9L658.1 1071.8L654.6 1065.0L647.8 1063.3L640.1 1061.6L640.1 1048.0L647.8 1049.7L654.6 1051.4L659.8 1048.0L661.5 1041.1ZM640.1 1075.2L647.8 1076.9L651.2 1082.1L646.1 1085.5L640.1 1085.5ZM651.2 1085.5L658.1 1083.8L664.9 1087.2L668.3 1095.7L661.5 1099.1L654.6 1095.7ZM739.9 1005.3L746.7 1003.6L760.4 1003.6L763.8 1007.0L760.4 1019.0L750.1 1020.7L741.6 1015.6ZM757.0 1034.3L767.2 1032.6L777.4 1030.9L791.1 1029.2L804.7 1029.2L804.7 1059.9L794.5 1058.2L787.7 1054.8L780.8 1051.4L774.0 1049.7L767.2 1048.0L760.4 1042.8ZM716.0 1068.4L722.9 1066.7L726.3 1070.1L722.9 1075.2L717.7 1075.2ZM719.4 1111.1L726.3 1100.8L736.5 1096.6L750.1 1095.7L763.8 1097.4L777.4 1099.1L791.1 1100.0L804.7 1100.8L804.7 1111.1ZM155.1 1109.1L319.7 1109.1L319.7 1289.1L155.1 1289.1ZM316.3 1109.1L331.6 1109.1L338.5 1120.2L340.2 1130.5L336.8 1144.1L335.1 1154.3L340.2 1166.3L347.0 1178.2L352.1 1185.0L355.5 1191.9L348.7 1190.1L340.2 1188.4L335.1 1191.9L331.6 1205.5L333.3 1219.1L336.8 1229.4L340.2 1239.6L336.8 1244.7L329.9 1243.0L323.1 1239.6L316.3 1236.2ZM316.3 1251.5L324.8 1249.8L331.6 1254.9L335.1 1260.1L331.6 1268.6L324.8 1273.7L316.3 1273.7ZM335.1 1144.1L338.5 1133.9L343.6 1120.2L352.1 1116.8L369.2 1118.5L376.0 1127.1L386.2 1133.9L393.0 1140.7L403.3 1145.8L410.1 1150.9L415.2 1157.7L413.5 1168.0L410.1 1178.2L406.7 1188.4L401.6 1193.6L393.0 1195.3L386.2 1191.9L379.4 1186.7L372.6 1183.3L365.7 1185.0L360.6 1190.1L355.5 1188.4L352.1 1181.6L345.3 1174.8L340.2 1164.6L335.1 1154.3ZM389.6 1132.2L399.9 1127.1L410.1 1123.6L416.9 1120.2L423.7 1120.2L427.1 1127.1L425.4 1135.6L420.3 1144.1L423.7 1154.3L427.1 1166.3L430.5 1178.2L427.1 1185.0L420.3 1188.4L415.2 1183.3L413.5 1174.8L415.2 1164.6L413.5 1156.0L406.7 1149.2L398.1 1144.1L391.3 1139.0ZM382.8 1109.1L393.0 1109.1L399.9 1115.1L413.5 1116.8L420.3 1113.4L427.1 1109.1L437.4 1109.1L434.0 1116.8L423.7 1120.2L413.5 1121.9L403.3 1123.6L393.0 1121.9L386.2 1116.8ZM445.9 1139.0L452.7 1135.6L459.5 1139.0L457.8 1144.1L451.0 1144.1ZM399.9 1198.7L410.1 1195.3L420.3 1193.6L430.5 1195.3L440.8 1198.7L449.3 1203.8L447.6 1208.9L437.4 1210.6L427.1 1212.3L416.9 1210.6L406.7 1208.9L401.6 1205.5ZM364.0 1251.5L370.9 1246.4L379.4 1243.0L389.6 1239.6L399.9 1234.5L413.5 1231.1L427.1 1229.4L437.4 1232.8L447.6 1239.6L457.8 1244.7L466.4 1246.4L468.1 1253.2L464.7 1260.1L457.8 1265.2L447.6 1268.6L437.4 1272.0L427.1 1275.4L416.9 1278.8L406.7 1282.2L396.4 1285.6L386.2 1289.1L369.2 1289.1L365.7 1280.5L369.2 1273.7L365.7 1263.5ZM471.5 1244.7L474.9 1243.0L476.6 1248.1L473.2 1249.8ZM452.7 1109.1L462.9 1109.1L466.4 1116.8L462.9 1123.6L457.8 1120.2L454.4 1115.1ZM478.1 1109.1L554.0 1109.1L554.0 1115.1L547.2 1120.2L537.0 1120.2L526.7 1116.8L513.1 1118.5L499.5 1120.2L489.2 1120.2L478.1 1121.9ZM496.1 1133.9L504.6 1130.5L516.5 1130.5L526.7 1132.2L533.6 1137.3L540.4 1142.4L547.2 1145.8L548.9 1154.3L547.2 1164.6L550.6 1174.8L550.6 1183.3L547.2 1190.1L543.8 1197.0L540.4 1203.8L535.3 1208.9L530.2 1212.3L523.3 1214.0L516.5 1212.3L511.4 1207.2L508.0 1198.7L504.6 1190.1L502.9 1181.6L501.2 1169.7L497.8 1157.7L496.1 1145.8ZM547.2 1185.0L554.0 1181.6L559.1 1185.0L564.3 1191.9L566.0 1198.7L562.6 1203.8L557.4 1205.5L550.6 1205.5L547.2 1198.7ZM554.0 1154.3L560.9 1144.1L564.3 1135.6L567.7 1123.6L574.5 1116.8L581.3 1109.1L642.7 1109.1L642.7 1181.6L632.5 1185.0L625.7 1185.0L618.8 1181.6L612.0 1176.5L606.9 1171.4L598.4 1166.3L591.5 1162.9L584.7 1161.2L577.9 1161.2L571.1 1161.2L564.3 1161.2L557.4 1161.2ZM581.3 1140.7L588.1 1137.3L598.4 1135.6L608.6 1137.3L612.0 1142.4L605.2 1145.8L595.0 1147.5L584.7 1147.5ZM610.3 1198.7L615.4 1191.9L622.2 1185.0L629.1 1183.3L635.9 1183.3L642.7 1185.0L642.7 1289.1L632.5 1289.1L629.1 1277.1L625.7 1270.3L620.5 1260.1L618.8 1251.5L623.9 1243.0L627.4 1232.8L625.7 1222.5L620.5 1212.3L615.4 1205.5ZM591.5 1258.4L598.4 1254.9L605.2 1258.4L608.6 1263.5L605.2 1266.9L598.4 1265.2L593.3 1261.8ZM478.1 1226.0L485.8 1222.5L496.1 1222.5L506.3 1226.0L516.5 1229.4L526.7 1229.4L533.6 1231.1L535.3 1239.6L533.6 1249.8L531.9 1258.4L526.7 1260.1L519.9 1256.7L513.1 1256.7L506.3 1254.9L499.5 1251.5L492.6 1246.4L485.8 1243.0L478.1 1237.9ZM543.8 1289.1L547.2 1280.5L555.7 1278.8L564.3 1279.7L567.7 1289.1ZM612.0 1289.1L615.4 1280.5L622.2 1278.8L625.7 1289.1ZM640.1 1109.1L654.6 1109.1L661.5 1120.2L668.3 1127.1L675.1 1132.2L681.9 1133.9L685.3 1139.0L681.9 1147.5L675.1 1154.3L668.3 1157.7L661.5 1161.2L654.6 1162.9L647.8 1164.6L640.1 1166.3ZM743.3 1109.1L804.7 1109.1L804.7 1116.8L794.5 1118.5L777.4 1116.8L760.4 1115.1L750.1 1113.4ZM767.2 1142.4L777.4 1139.0L787.7 1137.3L794.5 1139.0L804.7 1140.7L804.7 1212.3L794.5 1212.3L787.7 1208.9L782.5 1203.8L777.4 1197.0L770.6 1191.9L763.8 1186.7L757.0 1181.6L753.5 1174.8L760.4 1169.7L770.6 1166.3L780.8 1161.2L787.7 1157.7L791.1 1152.6L785.9 1147.5L777.4 1147.5L770.6 1147.5ZM640.1 1168.0L647.8 1166.3L654.6 1164.6L661.5 1168.0L668.3 1171.4L675.1 1174.8L681.9 1176.5L688.7 1174.8L695.6 1173.1L705.8 1171.4L709.2 1174.8L702.4 1178.2L695.6 1181.6L688.7 1186.7L683.6 1191.9L678.5 1198.7L675.1 1205.5L671.7 1212.3L668.3 1220.8L664.9 1229.4L661.5 1236.2L654.6 1239.6L647.8 1243.0L640.1 1244.7ZM640.1 1229.4L647.8 1229.4L658.1 1232.8L668.3 1236.2L675.1 1239.6L681.9 1243.0L688.7 1246.4L692.2 1251.5L685.3 1254.9L675.1 1256.7L664.9 1258.4L658.1 1260.1L651.2 1263.5L644.4 1266.9L640.1 1266.9ZM681.9 1232.8L688.7 1229.4L699.0 1229.4L709.2 1227.7L716.0 1229.4L722.9 1232.8L726.3 1239.6L728.0 1246.4L726.3 1253.2L719.4 1256.7L712.6 1258.4L705.8 1256.7L699.0 1253.2L692.2 1249.8L687.0 1244.7L683.6 1239.6ZM721.1 1212.3L729.7 1210.6L736.5 1212.3L743.3 1215.7L750.1 1217.4L757.0 1219.1L762.1 1222.5L760.4 1227.7L753.5 1229.4L746.7 1229.4L739.9 1227.7L733.1 1222.5L726.3 1219.1ZM709.2 1272.0L716.0 1266.9L722.9 1263.5L729.7 1260.1L736.5 1260.1L743.3 1263.5L750.1 1266.9L757.0 1270.3L763.8 1272.0L770.6 1273.7L777.4 1275.4L777.4 1280.5L770.6 1283.9L760.4 1285.6L743.3 1289.1L695.6 1289.1L699.0 1280.5ZM774.0 1246.4L780.8 1243.0L787.7 1239.6L794.5 1236.2L804.7 1236.2L804.7 1272.0L794.5 1270.3L787.7 1266.9L780.8 1260.1L775.7 1254.9Z"/><path fill="#ffffff" d="M598.4 1061.6L606.9 1058.2L612.0 1063.3L608.6 1070.1L601.8 1068.4ZM608.6 1071.8L618.8 1070.1L625.7 1075.2L622.2 1082.1L612.0 1083.8L606.9 1078.7ZM629.1 1068.4L635.9 1066.7L642.7 1068.4L642.7 1078.7L632.5 1078.7ZM588.1 1092.3L595.0 1090.6L596.7 1095.7L589.8 1097.4ZM767.2 957.6L775.7 954.2L782.5 955.9L780.8 961.0L772.3 961.8ZM159.4 1109.1L251.5 1109.1L248.1 1115.1L237.9 1120.2L224.2 1123.6L212.3 1121.9L207.2 1127.1L200.3 1132.2L193.5 1128.8L186.7 1123.6L173.1 1120.2L162.8 1116.8L159.4 1116.8ZM155.1 1145.8L173.1 1145.8L186.7 1146.7L193.5 1149.2L190.1 1154.3L181.6 1156.0L169.6 1156.9L155.1 1157.7ZM287.3 1185.0L295.8 1182.5L306.1 1183.3L314.6 1186.7L319.7 1190.1L319.7 1202.1L309.5 1203.8L302.7 1205.5L295.8 1202.1L290.7 1197.0L287.3 1191.9ZM222.5 1195.3L229.3 1193.6L241.3 1198.7L251.5 1202.1L265.1 1205.5L278.8 1208.9L292.4 1212.3L300.9 1212.3L306.1 1220.8L312.9 1229.4L319.7 1232.8L319.7 1246.4L309.5 1248.1L300.9 1246.4L292.4 1244.7L285.6 1243.0L275.4 1239.6L265.1 1237.9L251.5 1236.2L243.0 1234.5L236.1 1227.7L231.0 1220.8L227.6 1212.3L224.2 1203.8ZM155.1 1219.1L162.8 1220.8L173.1 1226.0L176.5 1232.8L173.1 1239.6L166.2 1241.3L155.1 1241.3ZM155.1 1263.5L173.1 1261.8L190.1 1261.8L207.2 1261.8L224.2 1263.5L229.3 1268.6L234.4 1273.7L237.9 1280.5L241.3 1289.1L155.1 1289.1ZM295.8 1278.8L309.5 1277.1L319.7 1275.4L319.7 1289.1L295.8 1289.1ZM347.0 1161.2L352.1 1159.5L353.8 1164.6L349.5 1166.3ZM365.7 1161.2L369.2 1160.3L370.9 1164.6L367.5 1166.3ZM347.0 1174.8L350.4 1173.9L352.1 1178.2L348.7 1179.9ZM528.5 1174.8L533.6 1173.1L537.0 1178.2L535.3 1185.0L530.2 1185.0L527.6 1179.9ZM530.2 1190.1L535.3 1188.4L538.7 1193.6L537.0 1202.1L531.9 1202.1L529.3 1197.0ZM791.1 1149.2L797.9 1147.5L804.7 1149.2L804.7 1161.2L797.9 1161.2L792.8 1156.0ZM647.8 1181.6L654.6 1178.2L661.5 1179.9L664.9 1186.7L663.2 1195.3L658.1 1200.4L651.2 1202.1L646.1 1197.0L644.4 1188.4ZM729.7 1215.7L736.5 1215.7L738.2 1222.5L733.1 1226.0L729.7 1222.5Z"/><path fill="#93dffb" d="M186.7 963.5L196.9 961.8L207.2 961.8L220.8 962.7L232.7 965.3L241.3 967.0L237.9 970.4L227.6 971.2L215.7 970.4L203.7 968.7L193.5 967.0ZM265.1 990.0L275.4 986.6L285.6 984.9L295.8 983.2L306.1 984.9L312.9 991.7L314.6 1000.2L319.7 1005.3L319.7 1013.9L312.9 1013.9L306.1 1007.0L299.2 1001.9L292.4 996.8L285.6 993.4L275.4 993.4L268.5 992.5ZM161.1 1010.4L167.9 1009.6L173.1 1011.3L171.3 1015.6L166.2 1017.3L162.8 1015.6ZM265.1 1053.1L270.3 1051.4L272.0 1054.8L268.5 1058.2L266.0 1056.5ZM214.0 1071.8L220.8 1068.4L224.2 1070.1L220.8 1073.5L215.7 1075.2ZM317.1 935.4L352.1 935.4L377.7 937.1L398.1 938.8L399.9 942.2L377.7 942.2L352.1 940.5L317.1 939.7ZM317.1 1012.1L328.2 1010.4L338.5 1008.7L348.7 1008.7L358.9 1010.4L364.0 1015.6L362.3 1022.4L355.5 1029.2L352.1 1037.7L348.7 1044.5L343.6 1051.4L341.9 1059.9L338.5 1065.0L333.3 1066.7L328.2 1063.3L324.8 1054.8L321.4 1048.0L317.1 1042.8ZM396.4 1024.1L403.3 1025.8L413.5 1027.5L423.7 1030.9L430.5 1034.3L427.1 1039.4L420.3 1041.1L413.5 1039.4L406.7 1037.7L401.6 1034.3L398.1 1029.2ZM449.3 1071.8L454.4 1075.2L462.9 1073.5L466.4 1076.9L462.9 1082.1L457.8 1085.5L452.7 1088.9L451.0 1083.8ZM471.5 995.1L481.7 993.4L481.7 1000.2L474.9 1000.2ZM528.5 964.4L537.0 962.7L547.2 961.8L554.0 962.7L552.3 966.1L543.8 967.8L533.6 967.8ZM574.5 1000.2L581.3 996.8L591.5 995.1L601.8 995.9L610.3 1000.2L613.7 1005.3L610.3 1010.4L605.2 1015.6L600.1 1020.7L595.0 1025.8L588.1 1027.5L581.3 1025.8L579.6 1019.0L576.2 1012.1L574.5 1005.3ZM615.4 954.2L620.5 953.3L620.5 955.9L616.3 955.9ZM627.4 962.7L642.7 961.8L642.7 966.1L629.1 966.1ZM478.1 995.1L485.8 994.2L485.8 996.8L478.1 997.7ZM658.1 952.5L666.6 950.8L678.5 954.2L692.2 957.6L705.8 961.0L712.6 964.4L712.6 968.7L705.8 969.5L697.3 967.8L688.7 966.1L680.2 964.4L671.7 961.0L663.2 957.6L656.3 955.9ZM712.6 1022.4L719.4 1019.0L728.0 1017.3L731.4 1020.7L729.7 1027.5L726.3 1032.6L721.1 1036.0L716.0 1034.3L713.5 1029.2ZM736.5 1048.0L743.3 1046.3L750.1 1051.4L757.0 1056.5L763.8 1061.6L774.0 1065.0L784.2 1068.4L787.7 1073.5L787.7 1082.1L784.2 1088.9L777.4 1090.6L770.6 1085.5L763.8 1080.4L757.0 1075.2L750.1 1070.1L743.3 1066.7L738.2 1059.9ZM683.6 1100.8L690.5 1097.4L695.6 1099.1L697.3 1105.9L690.5 1109.3L685.3 1107.6ZM249.8 1210.6L254.9 1208.1L261.7 1208.9L268.5 1212.3L273.7 1217.4L278.8 1224.3L282.2 1229.4L282.2 1236.2L275.4 1237.9L268.5 1234.5L261.7 1231.1L256.6 1226.0L251.5 1219.1ZM355.5 1229.4L360.6 1220.8L365.7 1212.3L370.9 1203.8L376.0 1197.0L382.8 1195.3L386.2 1202.1L389.6 1208.9L393.0 1217.4L399.9 1220.8L406.7 1224.3L410.1 1229.4L403.3 1232.8L394.7 1234.5L386.2 1236.2L377.7 1232.8L372.6 1236.2L365.7 1239.6L358.9 1239.6L355.5 1236.2ZM435.7 1285.6L447.6 1282.2L462.9 1280.5L481.7 1278.8L481.7 1289.1L435.7 1289.1ZM449.3 1219.1L454.4 1217.4L457.8 1220.8L454.4 1224.3L450.2 1223.4ZM476.6 1139.0L481.7 1138.1L481.7 1161.2L476.6 1159.5ZM478.1 1140.7L487.5 1139.8L492.6 1142.4L490.9 1149.2L485.8 1154.3L478.1 1156.0ZM484.1 1191.9L489.2 1191.9L496.1 1197.0L502.9 1205.5L506.3 1212.3L504.6 1215.7L499.5 1212.3L492.6 1205.5L487.5 1200.4L484.1 1195.3ZM538.7 1219.1L543.8 1215.7L548.9 1217.4L548.9 1226.0L545.5 1229.4L541.2 1226.0ZM555.7 1215.7L560.9 1214.0L564.3 1217.4L560.9 1220.8L556.6 1220.0ZM576.2 1210.6L583.0 1207.2L589.8 1207.2L593.3 1212.3L598.4 1219.1L605.2 1222.5L605.2 1229.4L598.4 1232.8L591.5 1232.8L586.4 1229.4L581.3 1224.3L576.2 1219.1ZM564.3 1227.7L569.4 1226.0L572.8 1229.4L569.4 1232.8L565.1 1231.9ZM530.2 1125.3L535.3 1123.6L537.0 1127.1L533.6 1129.6ZM478.1 1273.7L489.2 1272.0L502.9 1270.3L516.5 1269.4L530.2 1268.6L535.3 1272.0L530.2 1278.8L519.9 1282.2L506.3 1285.6L492.6 1289.1L478.1 1289.1ZM652.9 1273.7L661.5 1268.6L670.0 1265.2L678.5 1262.6L687.0 1261.8L695.6 1263.5L697.3 1266.9L690.5 1270.3L681.9 1272.0L671.7 1273.7L663.2 1277.1L654.6 1278.0ZM739.9 1249.8L746.7 1248.1L753.5 1251.5L760.4 1254.9L760.4 1260.1L753.5 1261.8L746.7 1260.1L741.6 1256.7ZM681.9 1109.1L692.2 1109.1L693.9 1116.8L690.5 1120.2L685.3 1118.5L682.8 1115.1ZM707.5 1116.8L714.3 1116.0L721.1 1118.5L722.9 1123.6L717.7 1125.3L710.9 1123.6ZM722.9 1120.2L733.1 1120.2L743.3 1123.6L746.7 1127.1L739.9 1128.8L729.7 1127.1L724.6 1125.3ZM733.1 1140.7L741.6 1139.8L750.1 1141.5L758.7 1144.1L767.2 1149.2L770.6 1154.3L767.2 1156.0L760.4 1154.3L751.8 1150.9L743.3 1147.5L736.5 1145.8Z"/><path fill="#fd5a02" d="M155.1 945.6L162.8 946.5L164.5 949.1L155.1 949.9ZM155.1 967.8L164.5 969.5L173.1 974.6L179.9 978.0L183.3 983.2L181.6 991.7L178.2 996.8L171.3 996.8L162.8 995.1L155.1 993.4ZM244.7 1007.0L251.5 1008.7L258.3 1013.9L265.1 1017.3L272.0 1020.7L278.8 1024.1L285.6 1027.5L292.4 1030.9L294.1 1034.3L285.6 1036.0L275.4 1034.3L266.8 1032.6L260.0 1029.2L254.9 1024.1L249.8 1017.3ZM196.9 996.8L203.7 996.8L210.6 1000.2L215.7 1003.6L210.6 1005.3L203.7 1003.6L198.6 1001.9ZM155.1 1042.8L161.1 1044.5L162.8 1049.7L159.4 1053.1L155.1 1051.4ZM266.8 1078.7L272.0 1078.7L275.4 1085.5L278.8 1092.3L285.6 1099.1L290.7 1104.2L292.4 1111.1L275.4 1111.1L272.0 1100.8L268.5 1092.3ZM340.2 961.0L348.7 960.1L358.9 964.4L369.2 966.1L376.0 967.8L381.1 972.9L381.1 984.9L379.4 991.7L372.6 993.4L365.7 990.0L369.2 983.2L362.3 976.3L355.5 972.9L348.7 969.5L341.9 966.1ZM369.2 1051.4L376.0 1049.7L386.2 1048.0L389.6 1051.4L382.8 1054.8L376.0 1058.2L370.9 1056.5ZM393.0 1085.5L399.9 1076.9L406.7 1075.2L408.4 1082.1L406.7 1088.9L403.3 1095.7L398.1 1097.4L393.0 1092.3ZM420.3 1088.9L427.1 1085.5L432.3 1087.2L430.5 1092.3L423.7 1093.1ZM358.9 1095.7L365.7 1094.0L372.6 1095.7L376.0 1100.8L372.6 1105.9L365.7 1107.6L360.6 1104.2ZM478.1 971.2L487.5 968.7L494.3 969.5L492.6 972.9L484.1 974.6L478.1 975.5ZM504.6 1085.5L513.1 1082.1L519.9 1085.5L518.2 1090.6L511.4 1092.3L506.3 1090.6ZM523.3 1075.2L530.2 1073.5L537.0 1076.9L540.4 1085.5L543.8 1095.7L547.2 1102.5L547.2 1111.1L526.7 1111.1L525.0 1099.1L521.6 1088.9L519.9 1080.4ZM574.5 1058.2L581.3 1054.8L588.1 1051.4L595.0 1046.3L601.8 1042.8L608.6 1041.1L613.7 1044.5L610.3 1051.4L603.5 1054.8L598.4 1058.2L591.5 1061.6L588.1 1068.4L591.5 1075.2L588.1 1078.7L581.3 1076.9L577.9 1068.4ZM577.9 1065.0L584.7 1063.3L591.5 1066.7L598.4 1068.4L596.7 1075.2L589.8 1076.9L583.0 1075.2L579.6 1070.1ZM618.8 1051.4L625.7 1048.0L632.5 1049.7L639.3 1054.8L642.7 1065.0L635.9 1066.7L629.1 1063.3L622.2 1058.2ZM588.1 1097.4L598.4 1095.7L608.6 1099.1L612.0 1105.9L608.6 1111.1L588.1 1111.1ZM615.4 1102.5L622.2 1099.1L627.4 1102.5L625.7 1111.1L615.4 1111.1ZM750.1 949.1L760.4 945.6L777.4 943.9L804.7 942.2L804.7 950.8L785.9 951.6L770.6 950.8L757.0 950.8ZM765.5 969.5L774.0 966.1L785.9 964.4L804.7 964.4L804.7 976.3L791.1 976.3L777.4 974.6L768.9 972.9ZM787.7 983.2L794.5 982.3L796.2 986.6L791.1 988.3ZM640.1 1024.1L647.8 1022.4L656.3 1024.1L659.8 1029.2L654.6 1032.6L647.8 1032.6L640.1 1032.6ZM640.1 1063.3L646.1 1061.6L649.5 1065.0L647.8 1068.4L640.1 1068.4ZM652.9 1066.7L658.1 1065.9L659.8 1070.1L654.6 1071.0ZM745.0 1008.7L751.8 1007.0L758.7 1008.7L760.4 1013.9L757.0 1017.3L750.1 1017.3L745.9 1013.9ZM770.6 1036.0L780.8 1034.3L791.1 1034.3L804.7 1034.3L804.7 1054.8L794.5 1053.1L784.2 1051.4L775.7 1049.7L772.3 1042.8ZM254.9 1123.6L261.7 1116.8L272.0 1113.4L285.6 1109.1L319.7 1109.1L319.7 1132.2L309.5 1130.5L300.9 1128.8L292.4 1127.1L282.2 1127.1L272.0 1127.1L261.7 1127.1ZM157.7 1168.0L173.1 1166.3L190.1 1166.3L207.2 1166.3L224.2 1166.3L231.0 1169.7L229.3 1174.8L224.2 1179.9L232.7 1183.3L244.7 1185.0L258.3 1188.4L272.0 1193.6L272.0 1197.0L258.3 1198.7L244.7 1197.0L234.4 1193.6L227.6 1195.3L227.6 1202.1L232.7 1212.3L236.1 1219.1L231.0 1222.5L220.8 1222.5L207.2 1220.8L196.9 1219.1L190.1 1215.7L183.3 1208.9L176.5 1202.1L169.6 1195.3L162.8 1188.4L157.7 1181.6ZM241.3 1244.7L248.1 1241.3L258.3 1243.0L268.5 1246.4L278.8 1249.8L289.0 1254.9L295.8 1258.4L299.2 1263.5L299.2 1270.3L292.4 1272.0L282.2 1272.0L272.0 1270.3L261.7 1268.6L251.5 1266.9L244.7 1261.8L241.3 1253.2ZM304.4 1260.1L309.5 1258.4L314.6 1260.1L316.3 1265.2L311.2 1268.6L306.1 1266.9ZM162.8 1246.4L167.9 1246.4L169.6 1253.2L166.2 1256.7L162.8 1253.2ZM316.3 1113.4L326.5 1115.1L333.3 1120.2L335.1 1130.5L331.6 1140.7L328.2 1147.5L323.1 1149.2L316.3 1149.2ZM321.4 1164.6L326.5 1166.3L329.9 1173.1L326.5 1176.5L321.4 1173.1ZM336.8 1144.1L340.2 1133.9L345.3 1121.9L353.8 1118.5L369.2 1120.2L376.0 1128.8L386.2 1135.6L391.3 1142.4L399.9 1147.5L406.7 1152.6L410.1 1161.2L406.7 1174.8L405.0 1185.0L399.9 1190.1L393.0 1190.1L386.2 1186.7L379.4 1183.3L372.6 1181.6L365.7 1181.6L362.3 1185.0L358.9 1188.4L355.5 1185.0L352.1 1178.2L345.3 1171.4L341.9 1162.9L338.5 1154.3ZM406.7 1198.7L413.5 1196.1L423.7 1196.1L428.8 1200.4L423.7 1204.6L415.2 1205.5L408.4 1202.9ZM393.0 1251.5L403.3 1244.7L413.5 1241.3L423.7 1239.6L434.0 1241.3L444.2 1244.7L454.4 1249.8L457.8 1254.9L454.4 1260.1L447.6 1263.5L437.4 1266.9L427.1 1268.6L416.9 1270.3L406.7 1268.6L398.1 1265.2L393.0 1260.1ZM457.8 1123.6L462.9 1124.5L464.7 1128.8L461.2 1130.5ZM478.1 1109.1L530.2 1109.1L526.7 1113.4L513.1 1115.1L496.1 1115.1L478.1 1116.8ZM543.8 1120.2L550.6 1116.8L554.0 1123.6L550.6 1128.8L545.5 1127.1ZM497.8 1135.6L504.6 1132.2L516.5 1132.2L525.0 1133.9L531.9 1139.0L537.0 1145.8L535.3 1154.3L537.0 1161.2L540.4 1166.3L545.5 1168.0L548.9 1174.8L547.2 1183.3L543.8 1188.4L538.7 1190.1L533.6 1186.7L528.5 1185.0L525.0 1191.9L521.6 1198.7L521.6 1207.2L516.5 1210.6L511.4 1205.5L508.0 1197.0L504.6 1188.4L504.6 1178.2L502.9 1168.0L499.5 1156.0L497.8 1144.1ZM564.3 1144.1L571.1 1130.5L576.2 1120.2L583.0 1109.1L642.7 1109.1L642.7 1171.4L632.5 1169.7L625.7 1168.0L618.8 1166.3L612.0 1164.6L605.2 1161.2L598.4 1157.7L591.5 1154.3L584.7 1150.9L577.9 1150.9L571.1 1149.2L566.0 1147.5ZM625.7 1198.7L632.5 1197.0L639.3 1200.4L642.7 1205.5L642.7 1219.1L635.9 1215.7L630.8 1210.6L627.4 1205.5ZM627.4 1239.6L634.2 1236.2L642.7 1237.9L642.7 1260.1L635.9 1258.4L630.8 1253.2L627.4 1246.4ZM492.6 1232.8L499.5 1231.1L508.0 1232.8L513.1 1236.2L519.9 1234.5L526.7 1236.2L530.2 1241.3L526.7 1246.4L519.9 1246.4L513.1 1244.7L506.3 1243.0L499.5 1241.3L494.3 1237.9ZM640.1 1118.5L647.8 1116.8L654.6 1121.9L659.8 1128.8L661.5 1137.3L658.1 1144.1L654.6 1152.6L647.8 1159.5L640.1 1161.2ZM668.3 1128.8L675.1 1127.1L681.9 1132.2L685.3 1137.3L681.9 1144.1L676.8 1145.8L671.7 1140.7L668.3 1135.6ZM728.0 1157.7L733.1 1156.0L736.5 1161.2L733.1 1164.6L728.8 1162.9ZM767.2 1142.4L777.4 1139.8L784.2 1140.7L782.5 1145.8L774.0 1147.5L768.9 1146.7ZM758.7 1174.8L767.2 1171.4L777.4 1168.0L787.7 1166.3L797.9 1166.3L804.7 1168.0L804.7 1181.6L794.5 1183.3L787.7 1186.7L782.5 1191.9L777.4 1193.6L772.3 1190.1L767.2 1185.0L762.1 1179.9ZM640.1 1202.1L647.8 1200.4L654.6 1205.5L658.1 1212.3L656.3 1222.5L651.2 1229.4L646.1 1227.7L640.1 1226.0ZM640.1 1243.0L647.8 1241.3L654.6 1244.7L659.8 1251.5L658.1 1260.1L651.2 1261.8L644.4 1258.4L640.1 1256.7ZM654.6 1232.8L659.8 1231.1L661.5 1236.2L658.1 1239.6ZM676.8 1193.6L681.9 1191.9L685.3 1197.0L683.6 1205.5L678.5 1207.2L676.0 1202.1ZM695.6 1239.6L702.4 1236.2L710.9 1236.2L717.7 1239.6L722.9 1244.7L721.1 1249.8L714.3 1251.5L705.8 1249.8L699.0 1246.4ZM780.8 1249.8L784.2 1249.0L785.9 1253.2L782.5 1254.9ZM267.7 1080.1L275.1 1082.0L284.2 1096.6L295.2 1104.0L311.7 1111.3L330.0 1114.9L330.0 1136.9L320.8 1133.3L311.7 1129.6L298.9 1131.4L284.2 1131.4L269.6 1127.8L256.7 1124.1L262.2 1116.8L273.2 1111.3L276.9 1102.1Z"/><path fill="#5cb8fb" d="M340.2 1044.5L343.6 1042.8L345.3 1048.0L341.9 1051.4ZM408.4 1033.5L411.8 1032.6L413.5 1036.0L410.1 1036.9ZM537.0 964.4L543.8 963.5L547.2 965.3L542.1 967.0ZM589.8 1005.3L595.0 1002.8L598.4 1004.5L596.7 1007.0L591.5 1007.9ZM721.1 1024.1L726.3 1023.2L727.1 1027.5L722.9 1028.3ZM739.9 1051.4L745.0 1051.4L746.7 1056.5L742.5 1057.3ZM256.6 1220.8L261.7 1220.8L266.8 1226.0L268.5 1229.4L263.4 1230.2L258.3 1226.0ZM381.1 1229.4L386.2 1226.0L391.3 1226.0L393.0 1231.1L389.6 1234.5L384.5 1234.5ZM454.4 1283.9L462.9 1283.1L464.7 1286.5L454.4 1287.3ZM484.1 1278.8L492.6 1275.4L504.6 1274.6L516.5 1275.4L513.1 1280.5L502.9 1283.9L489.2 1286.5L484.1 1285.6ZM675.1 1265.2L681.9 1264.3L683.6 1266.9L678.5 1268.6ZM743.3 1142.4L750.1 1143.3L757.0 1145.8L762.1 1150.9L757.0 1151.8L750.1 1148.4L745.0 1146.7Z"/><path fill="#e3200b" d="M166.2 978.0L173.1 978.0L178.2 983.2L176.5 988.3L171.3 990.0L167.9 984.9ZM372.6 969.5L376.8 969.5L379.4 976.3L378.5 986.6L375.1 986.6L373.4 978.0ZM501.2 1102.5L506.3 1100.8L508.0 1105.9L502.9 1107.6ZM629.1 1058.2L635.9 1058.2L642.7 1061.6L642.7 1068.4L634.2 1066.7ZM595.0 1100.8L601.8 1100.0L603.5 1105.9L596.7 1107.6ZM777.4 1039.4L782.5 1038.6L785.9 1042.8L782.5 1048.0L778.3 1046.3ZM789.4 1041.1L794.5 1040.3L796.2 1046.3L791.1 1048.0ZM275.4 1121.9L282.2 1116.8L289.0 1115.1L295.8 1120.2L300.9 1125.3L295.8 1128.8L285.6 1128.8L278.8 1127.1ZM174.8 1183.3L183.3 1181.6L193.5 1186.7L203.7 1195.3L212.3 1202.1L219.1 1208.9L220.8 1215.7L214.0 1219.1L203.7 1217.4L196.9 1212.3L190.1 1205.5L183.3 1198.7L178.2 1191.9ZM347.0 1125.3L355.5 1120.2L369.2 1121.9L376.0 1130.5L381.1 1139.0L382.8 1147.5L379.4 1154.3L374.3 1157.7L367.5 1157.7L362.3 1154.3L358.9 1150.9L353.8 1149.2L348.7 1144.1L347.0 1135.6ZM376.0 1161.2L382.8 1157.7L391.3 1157.7L399.9 1161.2L405.0 1168.0L403.3 1178.2L398.1 1183.3L389.6 1183.3L382.8 1179.9L377.7 1173.1ZM416.9 1253.2L423.7 1249.8L434.0 1248.1L442.5 1249.8L445.9 1254.9L440.8 1260.1L432.3 1261.8L423.7 1263.5L418.6 1260.1ZM504.6 1135.6L513.1 1133.9L521.6 1135.6L528.5 1140.7L530.2 1149.2L526.7 1157.7L523.3 1162.9L519.9 1168.0L519.9 1178.2L516.5 1185.0L513.1 1191.9L509.7 1190.1L508.0 1181.6L506.3 1171.4L504.6 1161.2L502.9 1149.2ZM543.8 1169.7L547.2 1168.0L548.9 1173.1L546.4 1176.5ZM581.3 1120.2L588.1 1115.1L598.4 1115.1L601.8 1121.9L598.4 1128.8L591.5 1132.2L584.7 1130.5ZM608.6 1150.9L618.8 1149.2L629.1 1150.9L637.6 1152.6L642.7 1156.0L639.3 1161.2L629.1 1161.2L618.8 1159.5L612.0 1157.7ZM625.7 1127.1L632.5 1125.3L642.7 1127.1L642.7 1133.9L632.5 1133.9L627.4 1132.2ZM640.1 1125.3L646.1 1127.1L647.8 1132.2L644.4 1135.6L640.1 1135.6ZM680.2 1135.6L685.3 1133.9L687.0 1140.7L683.6 1145.8L680.2 1144.1ZM276.9 1118.6L287.9 1114.9L302.5 1120.4L302.5 1127.8L287.9 1129.6L278.7 1125.9Z"/><path fill="#b00404" d="M181.6 1186.7L186.7 1186.7L190.1 1191.9L186.7 1195.3L183.3 1191.9ZM352.1 1127.1L358.9 1123.6L367.5 1127.1L372.6 1133.9L376.0 1142.4L376.0 1150.9L370.9 1154.3L365.7 1152.6L360.6 1147.5L357.2 1140.7L353.8 1133.9ZM622.2 1154.3L629.1 1153.5L632.5 1156.9L627.4 1159.5L623.1 1158.6Z"/><clipPath id="pc2_0"><rect x="318" y="1077" width="162" height="66"/></clipPath><g clip-path="url(#pc2_0)"><rect x="318" y="1077" width="162" height="66" fill="#fff"/><path fill="#fdaa1c" d="M348.7 1076.1L451.0 1076.1L451.0 1087.2L444.2 1097.5L440.8 1109.4L430.5 1114.5L423.7 1119.6L413.5 1123.0L403.3 1126.5L393.0 1128.2L386.2 1124.7L381.1 1117.9L376.0 1112.8L369.2 1111.1L362.3 1111.1L352.1 1112.8L343.6 1111.1L335.1 1111.1L328.2 1107.7L324.8 1099.2L331.6 1095.8L343.6 1094.1L347.0 1087.2ZM389.6 1133.3L399.9 1129.9L410.1 1128.2L420.3 1128.2L427.1 1131.6L430.5 1136.7L428.8 1144.4L389.6 1144.4ZM447.6 1135.0L454.4 1135.0L457.8 1140.1L454.4 1144.4L447.6 1144.4ZM317.1 1094.1L324.8 1097.5L328.2 1111.1L321.4 1114.5L317.1 1114.5ZM459.5 1107.7L464.7 1107.7L466.4 1112.8L462.9 1114.5Z"/><path fill="#ffffff" d="M367.5 1080.4L374.3 1078.7L382.8 1080.4L389.6 1083.8L386.2 1087.2L377.7 1088.9L369.2 1087.2ZM386.2 1107.7L393.0 1102.6L401.6 1104.3L406.7 1109.4L403.3 1114.5L394.7 1114.5L387.9 1112.8ZM413.5 1076.1L428.8 1076.1L430.5 1080.4L420.3 1082.1L413.5 1081.3ZM420.3 1107.7L425.4 1106.0L427.1 1111.1L422.0 1112.8Z"/><path fill="#93dffb" d="M454.4 1076.1L466.4 1076.1L464.7 1083.8L457.8 1094.1L454.4 1095.8L452.7 1090.6Z"/><path fill="#fd5a02" d="M391.3 1087.2L398.1 1080.4L405.0 1076.1L410.1 1080.4L408.4 1090.6L403.3 1095.8L396.4 1095.8ZM362.3 1097.5L369.2 1094.1L377.7 1097.5L379.4 1104.3L372.6 1107.7L365.7 1106.0ZM423.7 1088.9L428.8 1087.2L432.3 1090.6L428.8 1094.1L424.6 1093.2ZM317.1 1111.1L324.8 1114.5L331.6 1121.3L335.1 1128.2L345.3 1117.9L355.5 1116.2L365.7 1119.6L374.3 1126.5L382.8 1133.3L389.6 1144.4L317.1 1144.4ZM457.8 1123.0L462.9 1121.3L466.4 1126.5L462.9 1129.9Z"/><path fill="#e3200b" d="M340.2 1126.5L348.7 1121.3L360.6 1121.3L369.2 1128.2L376.0 1136.7L377.7 1144.4L338.5 1144.4Z"/><path fill="#b00404" d="M348.7 1128.2L358.9 1126.5L365.7 1133.3L369.2 1144.4L348.7 1144.4Z"/></g><clipPath id="pc2_1"><rect x="479" y="1077" width="162" height="66"/></clipPath><g clip-path="url(#pc2_1)"><rect x="479" y="1077" width="162" height="66" fill="#fff"/><path fill="#fdaa1c" d="M478.1 1076.1L642.7 1076.1L642.7 1144.4L478.1 1144.4Z"/><path fill="#ffffff" d="M478.1 1076.1L489.2 1076.1L485.8 1083.8L482.4 1090.6L478.1 1094.1ZM478.1 1117.9L492.6 1116.2L504.6 1114.5L513.1 1116.2L523.3 1114.5L535.3 1116.2L543.8 1117.9L550.6 1119.6L554.0 1126.5L559.1 1133.3L560.9 1144.4L519.9 1144.4L516.5 1136.7L506.3 1133.3L499.5 1129.9L489.2 1128.2L478.1 1128.2ZM554.0 1076.1L571.1 1076.1L574.5 1082.1L564.3 1085.5L555.7 1083.8ZM588.1 1087.2L598.4 1085.5L605.2 1090.6L601.8 1095.8L595.0 1095.8L589.8 1092.3ZM608.6 1076.1L642.7 1076.1L642.7 1100.9L632.5 1099.2L625.7 1094.1L618.8 1090.6L612.0 1085.5ZM629.1 1106.0L635.9 1104.3L639.3 1109.4L634.2 1111.1Z"/><path fill="#93dffb" d="M478.1 1138.4L489.2 1136.7L492.6 1144.4L478.1 1144.4ZM530.2 1126.5L537.0 1123.0L540.4 1126.5L535.3 1129.9Z"/><path fill="#fd5a02" d="M521.6 1080.4L530.2 1076.1L537.0 1076.1L538.7 1087.2L540.4 1097.5L545.5 1104.3L550.6 1111.1L554.0 1116.2L543.8 1116.2L533.6 1112.8L526.7 1111.1L523.3 1102.6L521.6 1090.6ZM502.9 1087.2L509.7 1085.5L516.5 1087.2L518.2 1090.6L511.4 1094.1L504.6 1094.1ZM489.2 1104.3L496.1 1102.6L501.2 1107.7L499.5 1114.5L492.6 1116.2L487.5 1112.8ZM574.5 1092.3L581.3 1090.6L584.7 1095.8L579.6 1102.6L574.5 1100.9ZM571.1 1116.2L574.5 1109.4L581.3 1102.6L588.1 1097.5L598.4 1095.8L605.2 1097.5L612.0 1102.6L618.8 1111.1L625.7 1117.9L632.5 1116.2L642.7 1114.5L642.7 1144.4L564.3 1144.4L560.9 1133.3ZM496.1 1133.3L506.3 1131.6L518.2 1135.0L526.7 1140.1L530.2 1144.4L496.1 1144.4Z"/><path fill="#fdaa1c" d="M595.0 1135.0L601.8 1135.0L608.6 1140.1L605.2 1144.4L595.0 1144.4Z"/><path fill="#e3200b" d="M579.6 1123.0L588.1 1116.2L598.4 1116.2L603.5 1121.3L601.8 1129.9L595.0 1135.0L586.4 1135.0L581.3 1129.9ZM625.7 1124.7L632.5 1123.0L642.7 1121.3L642.7 1133.3L632.5 1135.0L627.4 1131.6ZM518.2 1136.7L523.3 1136.7L525.0 1141.8L519.9 1144.4Z"/></g><use href="#coast" transform="translate(0,931.4)"/></g><rect x="156.5" y="931.4" width="645.8" height="355.7" fill="none" stroke="#000" stroke-width="2.2"/><path d="M317.9 931.4v7M317.9 1287.1v-7M479.4 931.4v7M479.4 1287.1v-7M640.8 931.4v7M640.8 1287.1v-7M156.5 1002.5h7M802.3 1002.5h-7M156.5 1073.7h7M802.3 1073.7h-7M156.5 1144.8h7M802.3 1144.8h-7M156.5 1216.0h7M802.3 1216.0h-7" stroke="#000" stroke-width="1.8" fill="none"/><text x="138.5" y="944.9" text-anchor="end" font-size="39.2" fill="#262626">90N</text><text x="138.5" y="1016.0" text-anchor="end" font-size="39.2" fill="#262626">60N</text><text x="138.5" y="1087.2" text-anchor="end" font-size="39.2" fill="#262626">30N</text><text x="138.5" y="1158.3" text-anchor="end" font-size="39.2" fill="#262626">0</text><text x="138.5" y="1229.5" text-anchor="end" font-size="39.2" fill="#262626">30S</text><text x="138.5" y="1300.6" text-anchor="end" font-size="39.2" fill="#262626">60S</text><text transform="translate(47.9,1110.8) rotate(-90)" text-anchor="middle" font-size="44.4" font-weight="bold" fill="#262626">Weeks 5-6</text><text x="177.2" y="1256.6" font-size="44" font-weight="bold" fill="#000">(c)</text><text transform="translate(163.3,1310.5) rotate(-45)" text-anchor="end" font-size="39.2" fill="#262626" dominant-baseline="hanging">180W</text><text transform="translate(324.8,1310.5) rotate(-45)" text-anchor="end" font-size="39.2" fill="#262626" dominant-baseline="hanging">90W</text><text transform="translate(486.2,1310.5) rotate(-45)" text-anchor="end" font-size="39.2" fill="#262626" dominant-baseline="hanging">0</text><text transform="translate(647.6,1310.5) rotate(-45)" text-anchor="end" font-size="39.2" fill="#262626" dominant-baseline="hanging">90E</text><text transform="translate(809.1,1310.5) rotate(-45)" text-anchor="end" font-size="39.2" fill="#262626" dominant-baseline="hanging">180E</text><rect x="26.30" y="1400.5" width="75.66" height="48.0" fill="#08197a"/><rect x="101.66" y="1400.5" width="75.66" height="48.0" fill="#1656b2"/><rect x="177.02" y="1400.5" width="75.66" height="48.0" fill="#3493e2"/><rect x="252.38" y="1400.5" width="75.66" height="48.0" fill="#5cb8fb"/><rect x="327.73" y="1400.5" width="75.66" height="48.0" fill="#93dffb"/><rect x="403.09" y="1400.5" width="75.66" height="48.0" fill="#c8f8fd"/><rect x="478.45" y="1400.5" width="75.66" height="48.0" fill="#fde27a"/><rect x="553.81" y="1400.5" width="75.66" height="48.0" fill="#fca920"/><rect x="629.17" y="1400.5" width="75.66" height="48.0" fill="#fd5902"/><rect x="704.52" y="1400.5" width="75.66" height="48.0" fill="#e31e05"/><rect x="779.88" y="1400.5" width="75.66" height="48.0" fill="#b60101"/><rect x="855.24" y="1400.5" width="75.66" height="48.0" fill="#830101"/><path d="M101.7 1448.5v-9M177.0 1448.5v-9M252.4 1448.5v-9M327.7 1448.5v-9M403.1 1448.5v-9M478.4 1448.5v-9M553.8 1448.5v-9M629.2 1448.5v-9M704.5 1448.5v-9M779.9 1448.5v-9M855.2 1448.5v-9" stroke="#262626" stroke-width="1.3"/><rect x="26.3" y="1400.5" width="904.3" height="48.0" fill="none" stroke="#262626" stroke-width="1.6"/><text transform="translate(31.3,1468.5) rotate(-45)" text-anchor="end" font-size="33" fill="#262626" dominant-baseline="hanging">-0.6</text><text transform="translate(106.7,1468.5) rotate(-45)" text-anchor="end" font-size="33" fill="#262626" dominant-baseline="hanging">-0.5</text><text transform="translate(182.0,1468.5) rotate(-45)" text-anchor="end" font-size="33" fill="#262626" dominant-baseline="hanging">-0.4</text><text transform="translate(257.4,1468.5) rotate(-45)" text-anchor="end" font-size="33" fill="#262626" dominant-baseline="hanging">-0.3</text><text transform="translate(332.7,1468.5) rotate(-45)" text-anchor="end" font-size="33" fill="#262626" dominant-baseline="hanging">-0.2</text><text transform="translate(408.1,1468.5) rotate(-45)" text-anchor="end" font-size="33" fill="#262626" dominant-baseline="hanging">-0.1</text><text transform="translate(483.4,1468.5) rotate(-45)" text-anchor="end" font-size="33" fill="#262626" dominant-baseline="hanging">0</text><text transform="translate(558.8,1468.5) rotate(-45)" text-anchor="end" font-size="33" fill="#262626" dominant-baseline="hanging">0.1</text><text transform="translate(634.2,1468.5) rotate(-45)" text-anchor="end" font-size="33" fill="#262626" dominant-baseline="hanging">0.2</text><text transform="translate(709.5,1468.5) rotate(-45)" text-anchor="end" font-size="33" fill="#262626" dominant-baseline="hanging">0.3</text><text transform="translate(784.9,1468.5) rotate(-45)" text-anchor="end" font-size="33" fill="#262626" dominant-baseline="hanging">0.4</text><text transform="translate(860.2,1468.5) rotate(-45)" text-anchor="end" font-size="33" fill="#262626" dominant-baseline="hanging">0.5</text><text transform="translate(935.6,1468.5) rotate(-45)" text-anchor="end" font-size="33" fill="#262626" dominant-baseline="hanging">0.6</text><path d="M420.2 1568.2L433.3 1543.5L446.4 1568.2Z" fill="none" stroke="#262626" stroke-width="2.6" stroke-linejoin="miter"/><text x="460.5" y="1569.6" font-size="38.8" font-weight="bold" fill="#262626">ACC</text>
</svg></body></html>
